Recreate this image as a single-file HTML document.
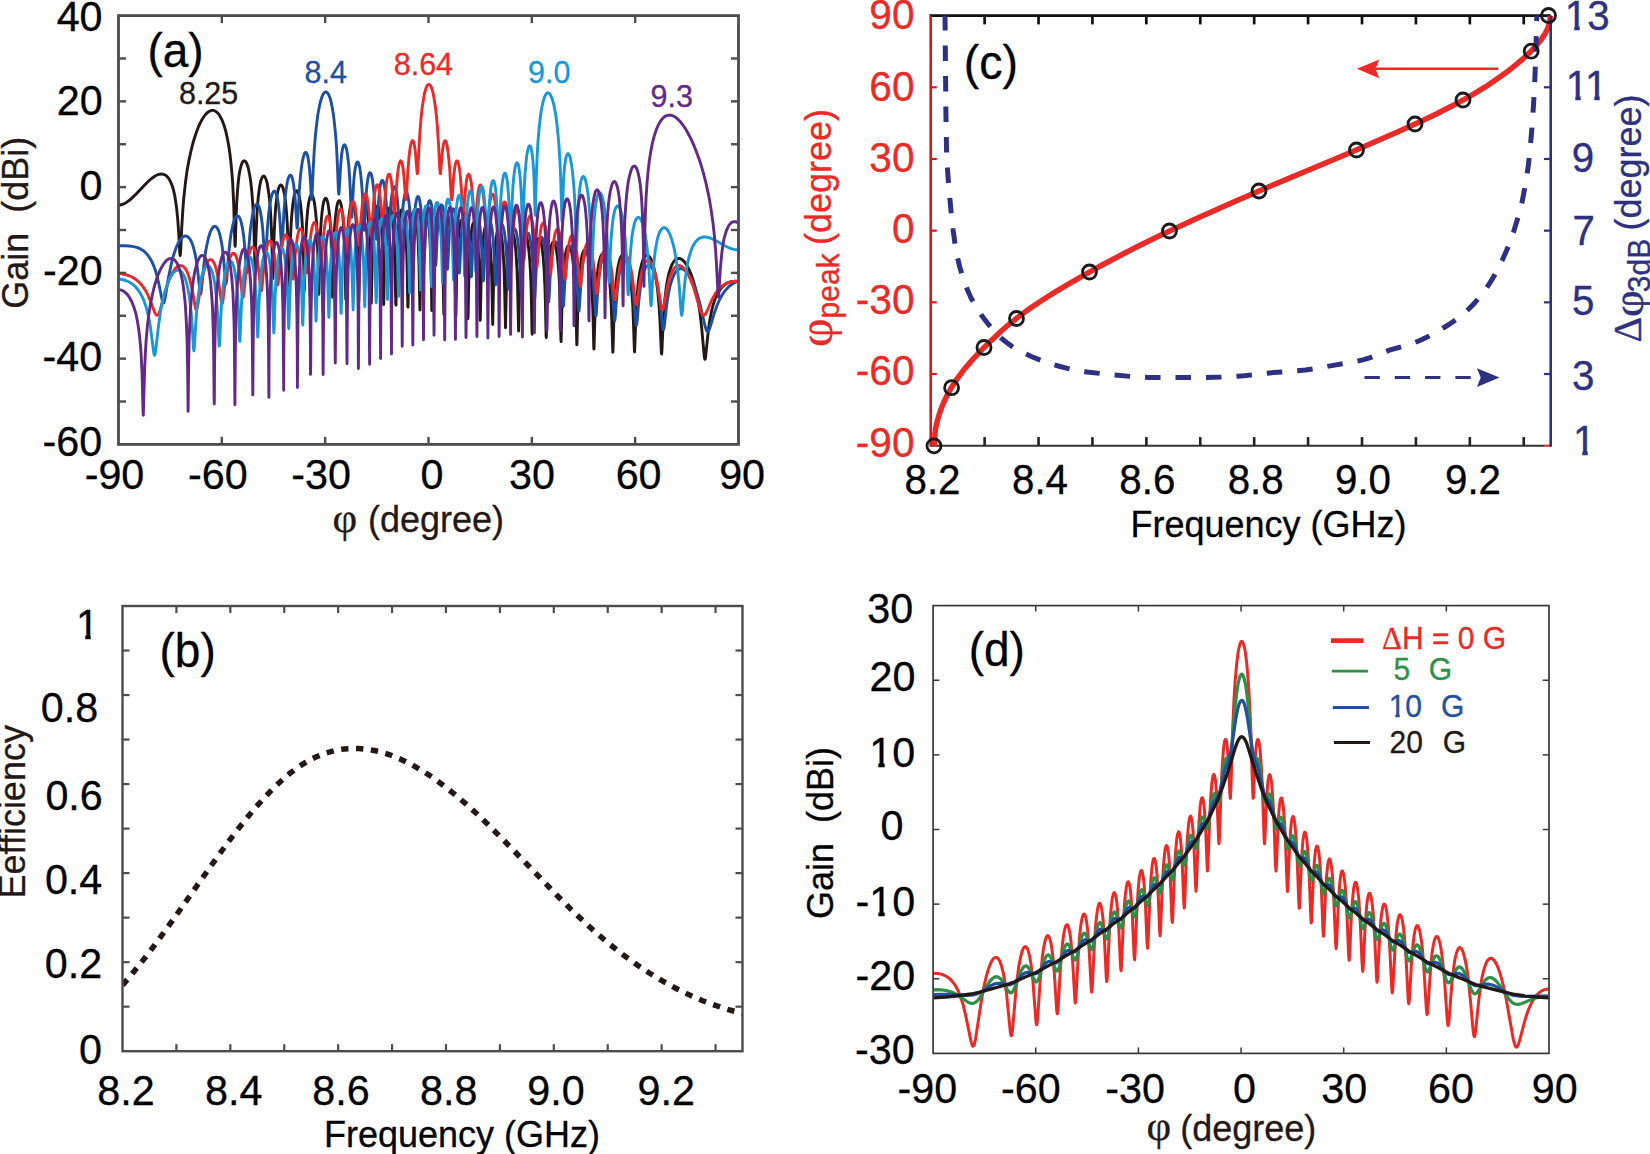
<!DOCTYPE html>
<html><head><meta charset="utf-8"><title>Figure</title>
<style>html,body{margin:0;padding:0;background:#fff;overflow:hidden}svg{display:block}</style></head>
<body><svg width="1650" height="1154" viewBox="0 0 1650 1154">
<rect width="1650" height="1154" fill="#fff"/>
<clipPath id="ca"><rect x="118.5" y="15.6" width="620.0" height="428.79999999999995"/></clipPath>
<g clip-path="url(#ca)" fill="none" stroke-linejoin="round" stroke-linecap="butt">
<path d="M118.5 205.2L121.1 204.8L123.7 203.9L126.4 202.4L129.4 200.3L131.9 198.1L134.7 195.4L144.2 185.5L147.9 181.7L151.6 178.5L154.8 176.2L156.6 175.3L158.1 174.6L159.7 174.2L161.2 174L162.6 174.1L164 174.5L165.2 175L166.4 175.9L167.8 177.3L169.1 179.1L170.3 181.3L171.5 184.1L172.6 187L173.6 190.7L174.5 194.4L175.3 199L176.7 208.7L177.7 219.1L178.6 231.2L179.8 252.8L180.2 255.5L180.3 254.9L180.7 250.2L181.7 228.4L182.6 213.6L183.4 202.1L184.3 192.8L185.5 182.1L187 171.1L188.8 161.1L190.7 152.1L193.1 142.5L195.7 134.2L198.4 126.9L199.8 123.8L201.3 120.8L202.7 118.4L204.3 116.1L205.8 114.2L207.4 112.6L208.9 111.5L210.3 110.8L211.8 110.4L213.2 110.4L214.4 110.7L215.6 111.3L216.8 112.2L217.9 113.2L219.1 114.7L220.1 116.3L222.2 120.4L224.1 125.4L225.8 131.4L227.5 139L228.9 146.7L230.1 155.2L231.1 164.3L232 173.9L232.7 183.5L233.7 203.9L234.9 243.6L235.1 246.2L235.3 244.6L236.1 216.8L236.6 204.6L237.5 190.6L238.5 179.8L239.2 174.6L239.9 170.6L240.8 166.8L241.6 164.1L242.5 162.2L243 161.5L243.5 161L244.4 160.8L244.9 161L245.4 161.4L246.5 162.9L247.3 165L248.2 167.8L249 171.4L249.9 176.1L250.6 180.7L251.8 191.5L252.8 205L253.5 218L254 231.5L254.9 264.7L255.1 267.7L255.2 265.3L255.9 238.8L256.5 224.2L257.1 210.9L258.2 197.7L259.4 188L260.1 184.1L260.9 180.5L261.8 178.1L262.6 176.6L263 176.3L263.5 176.1L264 176.1L264.4 176.3L265.2 177.5L266.1 179.5L267 182.5L267.6 185.8L269 195.1L270.1 205.6L270.9 218.4L271.6 233.5L272.8 278.5L273 277.1L273.7 248.2L274.2 232.7L274.9 218.7L275.7 207.1L276.9 196.6L277.6 192.5L278.3 189.4L279 187.2L279.9 185.5L280.6 184.9L281.1 184.9L281.4 185.1L282.3 186.3L283 188L283.7 190.5L284.4 193.9L285.6 202.4L286.6 213.6L287.3 224.4L288 240.1L289 282.9L289.2 285.9L290.4 239.7L291.1 224.8L291.8 214.6L292.8 204.3L294 196.8L294.7 194L295.4 192.1L296.1 191.1L296.4 190.8L296.8 190.8L297.4 191.2L298.1 192.5L298.8 194.5L299.5 197.5L300.7 205.3L301.7 215.9L302.4 226.3L303.1 241.4L303.6 258.9L304.3 290.6L304.5 288.3L305.2 255.5L305.7 239.6L306.6 222.8L307.6 210.6L308.3 205.1L309 201L309.8 197.5L310.7 195.6L311 195.2L311.6 195L312.1 195.3L312.4 195.7L313.3 197.8L314 200.6L314.8 205.6L315.7 212.9L316.4 221.2L317.1 232.8L317.9 256.6L318.6 290.8L318.8 294.4L319.8 249.4L320.3 236L321 223.8L321.9 213.6L322.4 209.2L323.1 204.7L323.6 202.2L324.3 199.9L325 198.6L325.3 198.3L325.7 198.2L326 198.4L326.4 198.7L326.9 199.8L327.6 202L328.1 204.4L329.1 211.5L330.2 222.8L330.9 234.3L331.5 252L332.4 293.4L332.6 297.2L333.6 250.9L334.1 237.4L334.8 225.2L335.7 215.1L336.7 207.3L337.2 204.7L337.9 202.3L338.4 201.2L338.8 200.8L339.1 200.7L339.5 200.7L339.8 201.1L340.3 202L341 204.3L341.5 206.7L342.6 214L343.6 226L344.3 238.5L344.8 252.3L345.8 299.5L346.9 252.7L347.4 239L348.1 226.6L348.9 216.5L350 208.8L350.5 206.2L351 204.4L351.5 203.3L351.9 202.8L352.2 202.6L352.6 202.7L352.9 203.1L353.4 204.1L354.1 206.5L354.6 209.1L355.7 216.9L356.5 227.3L357.2 239.8L357.7 253.8L358.8 301.3L359.8 253.2L360.3 239.6L360.8 230L361.7 219.1L362.7 210.9L363.2 208.2L363.7 206.3L364.3 205.1L364.6 204.7L364.9 204.5L365.3 204.6L365.6 204.9L366.2 206L366.8 208.5L367.4 211.2L368.4 219.6L369.3 230.7L369.8 240.4L370.3 254.1L371.3 303.1L372.4 254.9L372.9 241.1L373.4 231.4L374.2 220.4L375.3 212.3L375.8 209.6L376.3 207.8L376.8 206.6L377.2 206.2L377.5 206.1L377.9 206.3L378.2 206.8L378.7 208L379.2 210L379.8 212.7L380.8 221.1L381.7 232.4L382.2 242.3L382.7 256.5L383.6 300.6L383.7 304.5L384.6 260.6L385.1 245.2L385.6 234.6L386.5 222.9L387.3 215.4L387.9 212.4L388.4 210.1L388.9 208.7L389.4 207.9L389.8 207.8L390.1 207.9L390.6 208.7L391.3 210.9L391.8 213.3L392.9 221.1L393.7 231.7L394.4 244.7L394.9 259.5L395.8 304.5L396 305.2L396.6 267L397.3 245.5L397.8 235.3L398.5 225.8L399.2 219.2L400.1 213.8L400.8 211.2L401.5 209.9L401.8 209.7L402.2 209.8L402.5 210.2L402.8 210.9L403.5 213.3L404 216L404.7 221.1L405.2 226.4L406.1 239L406.8 255.3L407.3 275.4L407.8 306.2L408 307.1L408.9 262L409.6 243.3L410.2 231.7L411.3 220.8L411.8 217.3L412.5 214L413 212.4L413.3 211.8L413.7 211.5L414 211.5L414.4 211.8L415.1 213.3L415.9 217.1L416.8 223.4L417.5 231L418.2 242.1L419 265.3L419.9 310L420.8 267.3L421.4 247.1L422 237.4L422.6 228.2L423.3 221.9L424 217.6L424.7 214.9L425.4 213.5L425.7 213.3L426.1 213.4L426.4 213.8L426.8 214.5L427.5 216.8L428 219.6L428.7 224.7L429.2 229.9L430.1 242.7L430.7 259.1L431.3 279.3L431.8 310.2L431.9 310.5L432.8 265.3L433.3 250.5L434 237.7L435 225.9L436.1 219.2L436.6 217.2L437.3 215.7L437.6 215.4L438 215.4L438.5 216L439 217.4L439.5 219.4L440.4 224.8L441.2 233.3L441.9 243.5L442.5 254.4L443 270.5L443.8 314.3L444.7 270.5L445.4 250.8L445.9 241.2L446.6 232.3L447.3 226.1L448 221.9L448.7 219.2L449.3 217.9L449.7 217.6L450 217.7L450.4 218.1L450.7 218.8L451.4 221.2L451.9 223.9L452.6 229L453.1 234.2L454 246.7L454.7 262.6L455.2 282L455.7 312.8L455.9 316.2L456.7 271.7L457.3 256.4L458 243.2L458.8 232.7L459.3 228.3L460 224.1L460.5 222L461.2 220.4L461.7 219.9L462.1 220L462.4 220.4L462.9 221.5L463.5 223.4L464.5 229.6L465.4 238L466 248.1L466.6 258.8L467.1 274.5L467.9 318.8L468.1 314.5L469 270.7L469.5 256.7L470 247L470.9 236L471.9 228.1L472.4 225.5L472.9 223.8L473.5 222.8L473.8 222.5L474.1 222.5L474.5 222.7L474.8 223.3L475.3 224.7L475.9 226.8L476.4 229.7L477.2 236.8L478.1 247.6L478.8 260.9L479.3 275.9L480.2 320.4L480.3 319.6L481.2 275.5L481.7 261L482.2 251L483.1 239.8L484 232.6L484.5 229.7L485 227.5L485.5 226.2L486 225.4L486.4 225.3L486.7 225.5L487.2 226.2L487.9 228.2L488.4 230.6L489.5 237.8L490.5 249.9L491.2 262.5L491.7 276.6L492.7 324.5L493.6 282.1L494.1 266.6L494.8 253.2L495.7 242.4L496.7 234.4L497.2 231.8L497.9 229.5L498.4 228.6L498.8 228.3L499.1 228.3L499.5 228.6L499.8 229.1L500.3 230.4L501.4 235L502.4 243L503.2 253.5L503.9 266.1L504.4 280.1L505.5 327.7L506.5 280.5L507 266.9L507.7 254.7L508.6 244.7L509.6 237.3L510.1 234.8L510.8 232.7L511.3 231.8L511.7 231.5L512 231.5L512.4 231.8L512.7 232.3L513.2 233.5L513.9 236.2L514.4 238.9L515.5 247.1L516.3 257.6L517 270.1L517.5 283.9L518.6 331L519.6 285.4L520.1 271.6L520.8 259.3L521.7 249.2L522.7 241.5L523.2 238.9L523.9 236.6L524.6 235.3L524.9 235L525.3 235L525.6 235.2L526 235.6L526.5 236.7L527.2 239.1L527.7 241.6L528.7 248.9L529.8 260.6L530.5 272.3L531 285L531.5 304.1L532 331.6L532.2 334.2L533 294L533.9 271.7L534.6 260.8L535.3 253.2L536.1 246.5L537 242.2L537.7 240L538 239.2L538.5 238.6L538.9 238.4L539.4 238.6L539.9 239.2L540.3 240L541.1 242.8L541.8 246.2L542.5 250.9L543.2 257.2L544.2 271.1L544.9 285.6L545.4 302.1L546.1 335.8L546.3 337.5L547 305.1L547.5 288.1L548.2 273.4L549.2 259.7L550.4 250.2L551.1 246.7L552 243.8L552.7 242.5L553 242.1L553.5 242L554 242.4L554.4 242.8L555.1 244.4L556.1 248.3L557.1 254.7L558 262.4L558.9 273.5L559.9 295.2L560.4 313.6L560.9 338.9L561.1 341.6L562.1 299.2L563 279.4L563.7 269.4L564.4 262.1L565.2 255.5L566.3 250.3L567.1 247.6L568 246.1L568.3 245.9L568.9 245.8L569.4 246.1L569.9 246.9L570.9 249.6L571.8 253.2L572.6 258.4L573.3 263.9L574.5 277.9L575.4 294L576.1 314.9L576.8 344.7L577 344.4L577.6 314.9L578.2 298.8L578.9 284.5L579.7 272.7L580.7 263.3L581.4 258.8L582.1 255.4L582.8 252.9L583.7 250.9L584.4 250L584.7 249.8L585.2 249.7L585.7 250L586.1 250.4L586.8 251.7L587.6 254.1L588.3 256.8L589 260.4L589.7 264.9L590.9 275.9L591.8 287.4L592.5 300.7L593 315L593.8 348.7L594 349L595.2 306.3L595.9 292L596.8 279.9L597.8 270.2L598.5 265.5L599.2 261.9L599.9 259L600.7 256.5L601.6 254.8L602.4 254L602.8 253.9L603.3 254L603.8 254.3L604.3 254.9L605.4 257L606.2 259.6L607.1 263.1L608 267.8L609.3 278.4L610.4 290.3L611.2 305.1L611.7 317.9L612.8 352.3L613 351.2L613.8 321L614.3 307.6L615 294.9L616.1 281.9L617.4 270.5L618.1 266.5L619 262.5L619.8 259.4L620.7 257.2L621.6 255.6L622.6 254.6L623.1 254.4L623.6 254.5L624.3 254.8L624.8 255.3L625.9 257L626.9 259.6L627.9 263.2L628.8 267.1L629.7 272.1L630.5 278.4L631.7 290.4L632.8 305.8L633.4 321.1L634.3 348L634.5 351.6L634.6 351.9L635.7 322.5L636.4 307.2L637.2 294.1L638.4 281.7L639.1 276.4L640 271.2L640.9 267L641.7 263.6L642.6 260.9L643.6 258.5L644.6 256.8L645.8 255.7L646.5 255.4L647.2 255.3L647.9 255.5L648.6 255.9L650 257.5L651.4 260L652.7 263.7L653.9 267.9L655.1 273.3L656.2 279.1L657.7 290.7L659.1 306L660.1 323.3L661.3 351.6L661.5 353.7L661.7 353.9L662 348.9L662.9 328.3L663.8 312.8L664.8 299.9L666.2 288L667 282.5L667.9 278L668.9 273.5L670 269.9L671.2 266.5L672.4 263.9L673.7 261.6L675.1 260L676.2 259.2L677.4 258.6L678.4 258.4L679.6 258.5L680.8 258.9L682 259.6L683.2 260.6L684.4 261.8L685.6 263.4L686.8 265.3L689.2 269.9L691.5 275.4L693.6 281.7L695.3 288L696.8 294.7L698.2 301.8L699.6 310.3L700.6 317.9L701.6 327L704.2 355.6L704.6 358.2L704.9 359.3L705.1 359.3L705.3 358.8L705.6 356.9L708.2 331.8L709.2 324L710.3 317.6L711.5 311.6L712.8 306L714.4 301L715.9 297L718 292.8L720.2 289.3L722.7 286.5L724 285.2L725.4 284.2L726.8 283.3L728.3 282.6L729.9 282L731.6 281.6L733.3 281.4L735.1 281.3L738.5 281.7" stroke="#231815" stroke-width="2.9"/>
<path d="M118.5 245.8L124.5 245.7L129.4 246L133.5 246.6L136.9 247.4L140 248.7L143 250.4L145.5 252.6L147.9 255.3L150 258.3L151.9 261.7L153.6 265.6L155.4 270.4L156.9 275.7L158.3 281.3L162.1 300L162.8 302.2L163.1 302.9L163.4 303.1L163.8 302.8L164.1 302.2L165 298.8L168.6 277L170.9 265.7L172.9 257.4L175.2 250.2L176.7 246.3L178.3 243L179.8 240.4L181.4 238.3L182.9 236.9L184.5 236.2L185.3 236L186 236L187.4 236.5L188.4 237.3L189.5 238.4L190.5 240L191.4 241.6L193.1 246.2L194.6 252L195.7 257L196.7 263.3L197.9 272.7L199.8 290.4L200.3 293.3L200.5 293.7L200.6 293.8L201 292.9L201.5 289.2L203.4 269.5L204.6 258.9L205.6 251.6L206.9 244.8L208.6 237.3L210.3 232L211.2 230L212.2 228.2L213.2 227L214.1 226.4L214.9 226.3L215.8 226.6L216.7 227.3L217.5 228.5L218.4 230.3L219.1 232.1L219.9 235L220.6 237.9L221.7 243.5L222.7 250.9L223.7 260.6L225.4 281L225.8 283.3L226 283.7L226.1 283.6L226.7 279.8L228.2 259.4L229.1 249.7L230.1 240.5L231.1 233.4L232.5 226.2L233.9 221.1L234.6 219.3L235.4 217.5L236.1 216.6L237 215.9L237.8 215.9L238.5 216.3L239.2 217.1L239.9 218.4L240.6 220.2L241.3 222.6L242.5 228.4L243.4 234.2L244.1 240.1L244.9 249.7L246.3 269L246.6 272.2L246.8 272.8L247 272.7L247.5 268L248.7 249.2L249.6 238L250.4 229.2L251.5 221.1L252.7 214.1L254 208.7L254.7 206.8L255.4 205.5L256.3 204.5L257 204.3L257.7 204.6L258.2 205.2L258.9 206.5L259.4 207.8L260.4 211.8L261.4 217.8L262.1 223.2L262.8 230.2L264.7 257.8L265.1 260.6L265.2 260.6L265.8 255.3L267.5 226.9L268.9 212L269.9 204.3L270.9 198.7L272.1 194.2L272.6 193L273.3 191.8L274 191.2L274.5 191.2L275.2 191.7L275.7 192.6L276.4 194.3L276.9 196.1L278 201.5L278.8 208L279.5 215.2L280.2 224.6L281.2 242.2L281.6 246L281.8 246.5L281.9 245.8L282.3 241.4L284 210.7L285.2 196.7L286.1 189.6L287.1 183.2L288.1 178.9L288.7 177.4L289.3 176L290 175.2L290.6 175.2L291.1 175.5L291.6 176.3L292.1 177.5L292.6 179.2L293.6 184.6L294.5 191.5L295.2 199.3L296.8 225.1L297.1 228.1L297.3 227.9L297.6 223.7L299.3 190.5L300.5 175.5L301.4 167.9L302.4 161.1L303.5 156.4L304.5 153.6L305 152.8L305.5 152.4L306.1 152.5L306.6 153L307.1 154.1L307.6 155.8L308.5 160.2L309.1 165.5L309.7 170.9L310.4 180.6L311.2 195.9L311.6 199.4L311.7 199.2L312.1 194.8L313.3 167.3L314.3 149.3L315.5 134.3L317.1 120.3L317.9 114.3L319 108.4L320 103.5L321.2 99.1L322.2 96.2L323.4 93.8L324.6 92.4L325.2 92.1L325.9 91.9L326.5 92.1L327.1 92.5L328.1 93.7L329.1 95.7L330.2 98.6L331.2 102.4L332.2 107.4L333.1 112.4L333.9 118.6L335.3 131.6L336.4 145.2L337.2 160.5L338.4 189.4L338.8 194L338.9 193.8L339.1 192.1L340.7 164.6L341.7 154L342.6 148.8L343.4 145.8L343.8 145.2L344.3 144.7L344.8 144.8L345.3 145.5L345.8 146.7L346.4 148.5L347.2 152.8L348.1 159L348.8 165.8L349.8 180.1L351.3 214L351.5 216.5L351.7 217.4L352 214L353.4 186.6L353.9 179.6L354.6 172.7L355.3 167.8L356.2 164L356.5 163.1L357 162.2L357.5 161.9L358.1 162.3L358.6 163.2L358.9 164.2L359.8 167.8L360.6 173.6L361.3 180L362.4 194L363.9 227.9L364.1 230L364.3 230.3L364.6 225.8L365.8 200.3L366.3 192.6L367 185L367.9 178.6L368.7 174.7L369.1 173.8L369.6 172.9L370.1 172.7L370.6 173.1L371.2 174.1L371.5 175.1L372.4 179.1L373 183.9L373.7 190.5L374.8 205.1L376.1 236.1L376.3 238.6L376.5 239.3L376.8 235.2L378 208.9L378.6 201L379.2 193.1L379.9 187.6L380.8 183.1L381.1 182L381.7 180.8L382.2 180.3L382.7 180.5L383.2 181.4L383.6 182.3L384.4 186L385.1 190.7L385.8 197.1L386.8 211.5L388.2 242.7L388.4 245.3L388.5 246.1L388.9 241.9L390.1 215.2L390.6 207.2L391.3 199.3L392 193.7L392.9 189.3L393.2 188.1L393.7 187L394.2 186.6L394.7 186.8L395.3 187.7L395.6 188.7L396.5 192.7L397.2 197.6L397.8 204.3L398.9 219.7L400.1 247.8L400.4 251.8L400.6 250.9L400.8 248.2L402 221.1L403 206.6L403.7 200.4L404.6 195.4L405.4 192.6L405.8 192.1L406.3 191.9L406.8 192.4L407.1 193.1L408 196.2L408.9 201.7L409.6 208.1L410.2 217L410.8 225.9L412 254.1L412.1 256.3L412.3 256.6L412.7 251.4L413.9 224.4L414.9 210.4L415.6 204.4L416.3 200.3L417.1 197.4L417.5 196.8L418 196.5L418.5 196.8L418.9 197.5L419.7 200.4L420.6 205.7L421.3 212L422.3 226.2L423.7 257.7L423.9 260.3L424 261L424.4 256.6L425.6 229.3L426.6 215L427.3 208.9L428 204.7L428.7 202.1L429 201.3L429.5 200.7L430.1 200.8L430.6 201.6L431.4 204.5L432.3 209.7L433 215.9L434 230L435.4 261.3L435.6 264.2L435.7 265.2L436.1 261.3L437.1 237.2L438 223.4L438.5 217.7L439.2 212L439.7 209L440.4 206.3L440.9 205.2L441.4 204.8L441.9 205.1L442.5 206L443 207.7L443.5 210.2L444.3 216.3L445 223.4L445.7 233.3L447.1 264.3L447.4 269.2L447.6 268.7L447.8 266.3L449.2 235.9L449.7 228.2L450.4 220.6L451.2 214.3L452.1 210.5L452.6 209.3L453.1 208.8L453.6 208.9L454.2 209.8L455 212.8L455.7 216.8L456.4 222.5L456.9 228.2L457.8 241.5L459 269.4L459.2 272.2L459.3 273.1L459.7 269.2L460.9 242.1L461.9 227.6L462.6 221.3L463.3 217L464 214.2L464.3 213.4L464.8 212.6L465.4 212.6L465.9 213.2L466.7 215.7L467.6 220.4L468.5 227.7L469.1 236.1L469.7 244.4L470.9 272L471.2 276.8L471.4 276.4L471.6 274.1L472.8 247.3L473.6 234.3L474.1 228.9L474.8 223.5L475.3 220.6L476 218L476.6 216.8L477.1 216.4L477.6 216.6L478.1 217.5L478.6 219L479.1 221.3L480.2 228.3L480.9 235.4L481.5 245.1L483.1 278.5L483.3 280.6L483.4 280.8L483.8 275.9L485.2 246.7L485.7 239.4L486.4 232.2L487.2 226.1L487.7 223.6L488.3 221.9L488.8 220.9L489.3 220.5L489.8 220.7L490.3 221.6L491.2 224.5L491.9 228.3L492.6 233.7L493.1 238.9L494.1 254.1L495.3 281L495.7 284.9L495.8 284.2L496 281.8L496.9 262.5L497.6 250L498.1 243.1L498.8 236.1L499.6 230.1L500.5 226.5L501 225.2L501.5 224.6L502 224.6L502.6 225.2L503.4 227.5L504.3 231.7L505 236.7L505.7 243.5L506.7 258.4L507.9 284.8L508.2 289L508.4 288.6L508.6 286.6L509.8 261.1L510.6 248.3L511.2 242.8L511.9 237.2L512.5 233.3L513.2 230.7L513.8 229.5L514.3 228.8L514.6 228.8L515 228.9L515.5 229.7L516.2 231.5L516.7 233.7L517.7 240.1L518.6 248.2L519.3 257.3L520 269.5L520.8 288.6L521.2 293.2L521.3 293.2L521.7 288.7L523 261.1L523.6 254L524.3 246.7L525.1 240.3L526 236.2L526.8 233.8L527.4 233.2L527.9 233.1L528.4 233.5L528.9 234.5L529.8 237.3L530.6 241.9L531.5 248.7L532.7 263.2L534.2 293.8L534.6 297.6L534.8 297.3L534.9 295.5L536.3 268.7L537.5 253.3L538.2 247.6L539.1 242.5L539.9 239.3L540.4 238.1L541 237.5L541.5 237.4L541.8 237.5L542.2 237.9L542.7 238.9L543.2 240.4L544.2 245.1L545.3 252.5L546 259.5L546.6 268.5L548.2 298.1L548.5 301.9L548.7 301.8L549.1 297.7L550.1 277.5L550.8 267L551.6 257.5L552.5 250.9L553 248L553.7 245.1L554.2 243.5L554.9 242.2L555.3 241.9L555.6 241.7L555.9 241.8L556.3 242.1L557 243.2L557.5 244.5L558.4 247.9L559 251.7L559.7 256.6L560.4 263L561.6 279.1L562.8 302L563.2 306.1L563.4 306.4L563.7 303.4L565.2 276.2L566.1 265.8L566.8 259.7L567.5 255L568.3 250.8L569.2 248.1L569.9 246.8L570.6 246.3L570.9 246.2L571.3 246.4L572 247.2L572.6 248.8L573.3 251L574.5 257.1L575.6 264.8L576.4 273.8L577.3 286L578.5 307.4L578.9 310.8L579 310.9L579.5 305.5L581.1 280.1L581.8 272.2L582.6 264.7L583.7 258.5L584.9 253.8L585.4 252.5L586.1 251.4L586.6 251L587.3 250.9L588 251.4L588.5 252.2L589.2 253.8L589.7 255.4L590.9 260.8L591.9 267.4L592.8 274.9L593.5 282.5L595.4 311.9L595.7 315.3L595.9 315.8L596.1 315.3L596.4 311.9L597.6 292.9L598.3 284L599 276.9L599.9 270.1L600.9 264.1L602.1 259.5L602.6 258.1L603.3 256.8L603.8 256.2L604.5 255.8L605.2 255.9L606.1 256.6L606.8 257.8L607.4 259.5L608.8 264.4L610 270.9L611.1 278.6L611.9 286.8L612.8 297.5L614.2 317.5L614.5 320.3L614.7 320.7L614.8 320.4L615.2 317.7L616.6 298.6L617.4 288.7L618.3 281L619.3 274.1L620.5 268.3L621.9 263.9L622.6 262.5L623.5 261.3L624.1 260.8L625 260.6L625.9 261.1L626.6 261.8L627.4 263.3L628.1 264.9L629.7 270L631 276.6L632.1 283.2L633.1 291.7L634.1 302.6L635.7 321.8L636 324.5L636.2 325.2L636.4 325.4L636.7 324.3L637.1 321.4L638.6 303.2L639.5 294.7L640.5 286.7L641.5 280.6L642.9 274.5L644.5 269.8L645.2 268.3L646 266.9L646.9 265.9L647.7 265.4L648.8 265.2L649.8 265.5L651 266.6L652 268.1L653.1 270.1L654.1 272.7L655.1 275.9L656.2 279.8L657.6 286.3L658.9 294.7L660.3 305.4L662.4 324.9L662.9 328.4L663.2 329.5L663.4 329.6L663.8 329L664.3 326.1L666.3 308.1L667.5 299.2L668.8 292.1L670.1 285.8L671.9 279.9L673.7 275.2L674.8 273.3L675.8 271.8L677 270.4L678.2 269.5L679.8 268.8L681.5 268.7L683.2 269.2L685.1 270.4L686.8 272.1L688.7 274.5L690.5 277.3L692.2 280.6L694.9 287.2L697.5 294.9L700.4 305.7L704.4 323.2L705.4 327.3L706.1 329.4L706.6 330.6L707.2 331.4L707.7 331.7L708.2 331.5L708.7 330.8L709.7 328.5L714.2 313.4L717 305.5L719.4 300L722 295.2L723.7 292.6L725.6 290.1L727.5 288L729.5 286L731.8 284.3L734 282.9L736.3 281.8L738.5 281.1" stroke="#1e50a2" stroke-width="2.9"/>
<path d="M118.5 273.5L121.8 273.8L125 274.5L128.1 275.4L130.9 276.5L133.5 277.9L135.9 279.4L138.1 281.3L140.4 283.5L142.1 285.5L143.6 287.6L145.2 290.1L146.6 292.5L148.1 295.7L149.7 299.3L154.7 312.4L155.9 314.6L156.6 315.2L157.1 315.4L157.6 315.2L158.3 314.4L159 313.1L159.7 311.3L160.9 307.4L164.3 294.7L166.2 288.3L168.4 281.7L170.7 276.3L172.9 272L174.1 270.2L175.3 268.6L176.5 267.3L177.7 266.4L178.9 265.8L180 265.6L181.2 265.6L182.2 265.9L183.4 266.7L184.5 267.7L185.5 269L186.4 270.4L187.4 272.5L188.2 274.6L189.8 279.4L191.4 285.8L192.6 291.8L195.3 307.4L196 309.5L196.3 309.8L196.5 309.7L197 308.7L197.6 306.6L201.2 283.7L202.5 276.7L203.9 271.1L205.5 266.3L207 262.8L207.7 261.7L208.6 260.6L209.4 259.9L210.3 259.6L211.2 259.7L211.8 260L212.7 260.8L213.4 261.8L214.8 264.7L216.2 269.1L217.4 274.3L218.4 280.2L221.3 301.4L221.8 303.4L222 303.6L222.2 303.6L222.5 302.9L223 300.2L225.8 277.7L226.8 270.9L227.9 265.5L229.1 260.6L230.4 256.6L231.7 254.5L232.3 253.7L233 253.4L233.7 253.4L234.4 253.7L235.1 254.5L235.6 255.4L236.8 258.4L237.8 262.2L238.9 267.5L239.7 273.1L242.3 295.2L242.7 296.9L242.8 297.3L243 297.4L243.4 296.6L243.7 294.6L246.1 271.7L247 265.1L248 258.8L249 254.1L250.2 250.2L251.3 248.1L251.8 247.5L252.5 247.1L253.2 247.2L253.7 247.6L254.2 248.3L254.7 249.3L255.8 252.2L256.6 255.9L257.5 260.7L258.3 267.1L260.6 288.7L260.9 290.7L261.1 291.1L261.3 291.1L261.6 290L262 287.4L264 265.3L264.9 258L265.8 252.3L266.6 248L267.6 244.2L268.7 241.9L269.2 241.2L269.7 240.9L270.2 240.9L270.7 241.3L271.3 242L271.8 243.1L272.8 246.5L273.7 250.7L274.5 256.4L275.2 262.3L277.1 282.6L277.5 284.6L277.6 285L277.8 284.9L278 284.3L278.3 281.8L280.2 259.7L280.9 253.3L281.8 246.8L282.6 242L283.7 237.9L284.5 235.9L285 235.2L285.6 234.8L286.1 234.9L286.6 235.4L287.5 237.1L288.3 240L289.2 244.4L289.9 249.2L290.6 255.4L292.4 276.8L292.8 278.8L293 279L293.1 278.6L293.5 276.2L295.4 252.9L296.8 240.8L297.6 235.7L298.5 232L299.3 229.8L299.9 229L300.4 228.7L300.9 228.8L301.2 229.2L302.1 230.9L302.9 234.1L303.6 237.8L304.3 242.7L305 249.1L306.7 270L307.1 272.4L307.3 272.8L307.4 272.5L307.8 270.2L309.7 245.7L310.4 238.9L311 233.4L311.7 229.3L312.6 225.5L313.5 223.3L313.8 222.8L314.3 222.4L314.8 222.5L315.2 222.9L316 224.8L316.9 228.3L317.6 232.4L318.8 243.2L320.3 263L320.7 265.8L320.9 266.4L321 266.2L321.4 263.9L323.1 240.5L323.8 233.1L324.5 227.3L325.2 222.9L326 219L326.7 217.1L327.1 216.5L327.6 216L328.1 216L328.4 216.4L329.1 217.8L330 221L330.7 225L331.7 233.9L333.4 256.2L333.8 259.2L333.9 259.7L334.1 259.6L334.5 257.1L336.2 232.8L337.4 220.9L338.1 216.2L338.9 212.2L339.6 210.1L340 209.5L340.5 209.1L341 209.2L341.4 209.6L342 211.2L342.7 213.9L343.4 218L344.6 229.1L346.2 249.9L346.5 252.4L346.7 252.6L346.9 252L347.2 248.6L348.6 228L349.8 214.9L350.5 209.8L351.2 206L351.9 203.5L352.2 202.6L352.7 201.9L353.2 201.7L353.6 201.9L354.3 203.2L355.1 206.4L355.8 210.6L357 222.1L358.4 241.3L358.8 244.5L358.9 245L359.1 244.7L359.4 241.8L361 218.4L362.2 205.7L362.9 200.8L363.6 197.3L364.3 195L364.9 193.9L365.5 193.8L365.8 194L366.5 195.5L367.2 198.1L367.9 202.2L369.1 213.7L370.5 233.2L370.8 236.3L371 236.7L371.2 236.2L371.5 232.9L372.9 211.3L374.1 197.7L374.8 192.5L375.5 188.7L376.1 186.3L376.8 185L377.4 184.8L377.7 185L378.4 186.3L379.1 189L379.8 193.1L380.8 202.7L382.2 222.2L382.7 226.9L382.9 226.9L383.2 224.3L384.8 199.9L385.8 188.1L386.5 182.6L387.2 178.6L387.9 175.9L388.5 174.5L389.1 174.1L389.4 174.3L390.1 175.6L390.8 178.1L391.5 182.3L392.5 192L394.1 213.5L394.4 215.4L394.6 215L394.9 211.7L396.3 189.1L397.5 174.8L398.2 169.3L398.9 165.3L399.6 162.6L400.3 161.1L400.6 160.8L400.9 160.8L401.3 161.1L401.6 161.8L402.3 164L403 167.9L404 177.2L405.6 198.1L405.8 199.3L405.9 199.7L406.1 199.2L406.5 195.6L407.8 171.9L409 157L410.2 147.5L410.9 144.1L411.6 141.8L412.3 140.7L412.7 140.6L413 140.8L413.7 142.2L414.4 145.1L415.1 149.7L415.6 154.6L417 171.7L417.3 173.7L417.5 173.3L418 167.1L419.2 143.8L420.1 130.2L421.1 117.7L422.3 106.8L423.9 96.8L424.5 93.4L425.4 90.1L426.3 87.6L427.1 85.8L428 84.8L428.8 84.4L429.7 84.8L430.6 85.8L431.4 87.6L432.3 90.1L433.2 93.4L433.8 96.8L435.4 106.8L436.6 117.7L437.6 130.2L438.5 143.8L439.7 167.1L440.2 173.4L440.4 173.7L440.7 171.8L442.1 154.6L442.6 149.8L443.3 145.1L444 142.3L444.7 140.9L445 140.7L445.4 140.8L446.1 141.8L446.8 144.1L447.4 147.6L448.1 152.4L448.8 158.8L449.9 171.9L451.2 195.6L451.6 199.2L451.8 199.8L451.9 199.4L452.3 196.3L453.6 177.3L454.7 168L455.4 164.1L456.1 161.8L456.4 161.2L456.7 160.9L457.1 160.9L457.6 161.4L458.3 163.2L459 166.2L459.7 170.5L460.2 174.8L461.4 189L462.8 211.7L463.1 215L463.3 215.5L463.5 215L463.8 211.7L465.4 190.3L466.4 181.2L467.1 177.5L467.8 175.3L468.1 174.6L468.5 174.3L468.8 174.3L469.3 174.8L470 176.5L470.7 179.5L471.4 183.8L471.9 188.1L472.9 199.8L474.5 224.2L474.8 227L475 227.1L475.5 222.6L477.1 201.2L478.1 192.2L478.8 188.4L479.5 186.1L479.8 185.4L480.2 185L480.5 184.9L481 185.3L481.7 186.9L482.4 189.6L483.1 193.6L483.8 199.2L484.8 211.1L486.2 232.7L486.5 236.2L486.7 236.8L486.9 236.6L487.2 233.8L488.8 212.3L489.3 206.9L490 201.5L490.7 197.7L491.4 195.3L492.1 194.1L492.4 193.9L492.9 194.2L493.6 195.6L494.3 198.1L495 201.8L495.7 207L496.9 220.3L498.2 241.4L498.6 244.7L498.8 245.2L498.9 244.9L499.3 242.1L500.7 222.9L501.9 211.2L502.6 206.9L503.2 204L503.9 202.4L504.3 202L504.6 201.9L505.1 202.2L505.5 202.8L506.2 204.6L507 208.6L507.7 213.3L508.9 225.3L510.5 248.1L511 252.7L511.2 252.9L511.5 250.9L513.1 230.1L514.3 218.7L515 214.5L515.6 211.7L516.3 210L516.7 209.5L517 209.3L517.4 209.4L517.9 210L518.7 212.2L519.6 216.1L520.3 220.6L521.3 230.2L523.2 256.4L523.6 259.5L523.7 260L523.9 259.9L524.3 257.5L526.1 233.4L526.8 227.3L527.5 222.7L528.4 218.9L528.9 217.5L529.4 216.6L529.9 216.3L530.5 216.5L531 217.2L531.5 218.4L532.2 221L532.7 223.6L533.9 232.4L534.9 243.8L536.3 263L536.7 266.1L536.8 266.7L537 266.6L537.3 264.6L539.1 243.1L540.3 232.5L541 228.5L541.6 225.6L542.3 223.8L542.7 223.2L543.2 222.8L543.7 222.9L544.2 223.4L545.1 225.5L546 228.9L546.8 234L547.5 239.5L548.2 246.4L550.1 270.8L550.4 273L550.6 273.2L550.8 272.7L551.1 270.2L552.8 249.5L554 239.3L554.7 235.3L555.4 232.4L556.1 230.5L556.5 229.8L557 229.3L557.5 229.1L558 229.5L558.5 230.2L559 231.4L560.1 235.2L560.9 240L562.3 251.3L564.2 274.6L564.6 277.9L564.9 279.4L565.1 279.3L565.2 278.7L565.6 276.1L567 259.9L567.8 251.5L568.5 246.4L569.4 241.6L570.4 237.8L570.9 236.6L571.6 235.7L572.1 235.5L572.8 235.8L573.3 236.5L573.9 237.6L574.5 239.7L575.2 242.5L576.6 250.9L577.8 261.8L579.5 282.1L579.9 285L580.2 286.3L580.4 286.2L580.6 285.7L580.9 283.3L582.8 263.3L583.5 257.6L584.4 252.1L585.2 248L586.3 244.9L586.8 243.9L587.3 243.2L587.8 243L588.3 243L588.8 243.4L589.4 244.1L590.4 246.5L591.4 250.4L592.3 254.8L593.1 260.6L594 267.8L596.1 289.9L596.4 292.5L596.8 293.8L596.9 293.8L597.1 293.4L597.5 291.5L599.7 270L600.4 264.8L601.2 259.7L602.1 255.8L603.1 252.5L604.2 250.6L604.7 250L605.4 249.8L605.9 249.9L606.6 250.4L607.3 251.5L607.8 252.6L609 256.3L610 260.8L610.9 265.7L611.7 271.8L614.2 294.4L614.7 298.2L615 299.5L615.2 299.6L615.4 299.5L615.9 297.2L618.5 275.1L619.3 269.5L620.4 264.2L621.6 259.8L622.8 256.9L623.3 256.1L624 255.3L624.7 255L625.4 255L626 255.4L626.7 256.1L627.9 258.3L629.3 262.2L630.5 267.1L631.6 272.5L632.6 279.1L635.3 301.3L635.9 303.9L636.2 304.7L636.4 304.7L636.7 304L637.2 301.6L640 281.5L641 275.6L642.2 270.3L643.4 266.3L644.8 263.1L645.5 262L646.2 261.2L646.9 260.6L647.6 260.3L648.4 260.3L649.3 260.7L650.2 261.4L651 262.5L651.9 263.9L652.7 265.8L654.5 270.6L656 276.6L657.4 283.2L661.2 306.6L661.9 309.3L662.4 310.1L662.6 310.1L662.9 309.7L663.6 307.5L667.4 286.9L668.8 281.1L670.1 276.6L671.9 272.2L673.6 269.1L674.4 268L675.5 266.9L676.3 266.3L677.4 265.8L678.6 265.5L679.9 265.7L681.3 266.2L682.7 267.2L684.1 268.5L685.5 270.2L686.8 272.2L688.2 274.7L690.8 280.2L693.4 287.1L695.6 294.1L699.4 307.1L700.8 311.3L701.5 312.9L702.2 314.2L702.9 315.1L703.4 315.4L703.9 315.4L704.6 315L705.8 313.5L707.2 310.8L711.3 301.2L713.7 296.5L715.2 293.9L716.8 291.6L718.4 289.7L720.1 287.8L722 286.2L724 284.7L726.3 283.4L728.5 282.5L730.9 281.8L733.3 281.4L735.9 281.3L738.5 281.3" stroke="#ea2a27" stroke-width="2.9"/>
<path d="M118.5 279L122.1 279.5L125.7 280.5L129.2 282L132.3 284L135.2 286.5L137.8 289.5L140.2 293.1L142.3 296.9L144 300.9L145.7 305.9L147.1 310.7L148.5 316.5L149.7 322.8L150.7 329.2L153.6 351.8L154.1 354.4L154.5 355.2L154.7 355.2L155.2 353.7L155.7 350.3L158.5 325.9L160.5 311.7L161.7 305L162.9 299.4L164.3 293.8L165.9 288.4L167.8 283L169.6 278.7L171.5 275.3L173.6 272.5L174.6 271.6L175.7 270.8L176.7 270.3L177.6 270.2L178.6 270.2L179.5 270.4L180.3 270.9L181.2 271.6L182.4 273L183.4 274.7L184.5 276.8L185.5 279.5L186.5 282.9L187.4 286.3L188.9 294.2L190.1 302.8L191.2 312.7L192.2 326.3L193.4 346.6L193.8 350.3L193.9 350.8L194.1 350.2L194.4 346.4L195.7 325.1L196.7 310.7L197.9 298.5L199.3 288.4L201 279.3L202 275.2L203.1 272L204.1 269.5L205.1 267.6L206.2 266.3L206.9 265.8L207.4 265.6L208.4 265.7L209.4 266.4L210.5 267.8L211.5 270L212.4 272.4L213.2 275.7L214.1 279.8L214.8 283.8L216 293.3L217 305L217.9 319.1L218.9 341.8L219.2 346.1L219.4 345.7L219.8 340.5L220.8 317.1L221.5 305.2L222.5 292.2L223.6 282.8L224.9 273.9L225.8 269.8L226.7 266.6L227.5 264.2L228.4 262.5L229.2 261.4L230.1 260.9L231 261.2L231.8 262L232.7 263.7L233.4 265.5L234.2 268.7L234.9 272L236.1 280.1L237 288.2L237.8 299.6L238.5 312.5L239.6 338.7L239.7 341.2L239.9 341.3L241.6 301.6L242.5 288.6L243.5 277.7L244.7 268.9L245.4 265.2L246.3 261.6L247 259.4L247.8 257.6L248.7 256.6L249.2 256.5L249.6 256.5L250.2 257L250.9 258.1L251.6 259.9L252.3 262.3L253.5 268.7L254.6 276.9L255.4 287L256.1 298.3L257.7 337L257.8 336.4L258 332.9L258.7 312L259.4 295.8L260.1 284.4L260.9 274L262 265.3L263.2 258.5L263.9 255.8L264.5 253.9L265.2 252.7L265.9 252.1L266.3 252.1L266.6 252.2L267.3 253.1L268 254.6L268.7 256.9L269.9 263.4L270.9 272.1L271.6 280.6L272.3 292.3L272.8 304.5L273.7 331.1L273.8 332.9L274.2 326.3L275.2 295L275.7 284.5L276.4 274.2L277.3 264.9L278.1 258.3L279.2 252.8L279.7 250.9L280.4 249.2L281.1 248.2L281.4 248L281.8 248L282.5 248.6L283.1 250L283.8 252.3L284.4 254.8L285.6 263.3L286.4 272.8L287.1 284L287.8 300.5L288.5 324.1L288.7 328.2L288.8 328.5L289.9 295.8L290.4 283.5L291.2 269.3L292.1 259.8L292.8 254.3L293.5 250.2L294.2 247.2L294.9 245.3L295.5 244.2L296.1 244L296.4 244.2L297.1 245.2L297.8 247.1L298.6 251.1L299.3 255.8L300 262.3L300.7 271.3L301.6 288.6L302.6 323.1L302.8 325L302.9 322.2L304.2 282.7L304.8 269.4L305.7 258.1L306.7 249.3L307.3 246.2L307.9 243.1L308.5 241.6L309.1 240.4L309.5 240.2L309.8 240.2L310.2 240.5L310.5 241L311 242.3L311.6 244.2L312.4 249.1L313.3 256.6L314 265.3L314.8 282.3L316 321.1L316.2 319.2L317.4 278.4L318.1 264.7L318.8 255.3L319.8 245.7L320.9 240L321.4 238.2L321.9 237L322.2 236.6L322.6 236.4L323.1 236.7L323.6 237.5L324.1 239L325 243.2L325.9 249.9L326.5 257.8L327.6 277.2L328.8 317.4L329 315.5L330 278L330.9 259.8L331.5 250.4L332.2 243.7L333.1 237.9L333.9 234.4L334.5 233.3L334.8 232.8L335.2 232.7L335.5 232.9L335.8 233.3L336.4 234.5L336.9 236.5L337.4 239.3L338.4 247.9L339.1 256.9L339.8 270.4L340.3 285.6L341 312.5L341.2 313.3L342.4 270.8L343.1 256.4L343.9 244.7L345 236L345.5 233.1L346.2 230.5L346.9 229.2L347.2 229L347.6 229.1L347.9 229.5L348.2 230.2L348.8 231.9L349.4 235.5L350.1 240.9L350.8 248.8L351.3 257L352 273.1L353.1 310L353.2 307.4L354.3 268.2L354.8 256.3L355.3 247.7L356.2 237.6L357 231.1L357.9 227.2L358.4 226L358.9 225.4L359.4 225.6L360 226.5L360.8 229.7L361.7 235.6L362.5 245.1L363.1 253.5L363.6 265.2L364.6 304.3L364.8 306.5L365.8 267.9L366.5 251.4L367.5 236.5L368.2 230.3L368.9 226L369.4 223.9L370.1 222.3L370.5 222L370.8 222L371.3 222.7L372 224.8L372.5 227.4L373.6 235.9L374.2 245.1L374.9 259.2L376.1 302.8L376.3 301.4L377.4 261.1L377.9 248.9L378.4 240L379.1 231.6L379.9 224.6L380.8 220.4L381.3 219.1L381.8 218.5L382.3 218.7L382.9 219.7L383.7 223.2L384.6 229.6L385.3 237.6L385.8 246.1L386.3 258L387.3 298L387.5 299.4L388.4 264.8L389.2 243.2L389.8 234.9L390.4 226.9L391.1 221.5L392 217.2L392.5 215.9L392.9 215.4L393.2 215.3L393.7 215.8L394.2 217.1L394.7 219.3L395.3 222.4L396.1 230.5L396.8 240.6L397.5 256.3L398.5 296.2L398.7 295.1L399.4 265.4L399.9 249.6L400.6 235.7L401.3 226.5L402.3 217.8L402.8 215.1L403.4 213.3L403.9 212.4L404.2 212.2L404.6 212.4L405.1 213.3L405.6 215.1L406.3 219L407 225.1L408 240.2L408.7 257.8L409.6 292.8L409.7 292.3L410.8 251.2L411.3 238.7L412 227.4L412.8 218.2L413.7 212.6L414.2 210.5L414.7 209.3L415.2 209L415.8 209.4L416.3 210.6L416.6 212L417.3 216L418 222.2L418.7 231.4L419.5 250.4L420.6 290.1L420.8 287.7L421.6 251.6L422.5 231.3L423 223.4L423.7 216L424.4 210.9L425.1 207.6L425.6 206.2L425.9 205.8L426.3 205.7L426.8 206.2L427.3 207.6L427.8 209.9L428.3 213.2L429.2 221.7L429.9 232.3L430.4 244.1L431.4 284.8L431.6 286.7L432.8 241.4L433.5 226.8L434.2 217.2L435.2 208.2L435.7 205.5L436.2 203.6L436.8 202.6L437.1 202.4L437.5 202.6L438 203.5L438.5 205.2L439.2 209.1L439.9 215.2L440.9 230.3L441.6 247.9L442.5 283L442.6 282.4L443.7 241.3L444.2 228.8L444.9 217.5L445.7 208.3L446.6 202.7L446.9 201.2L447.4 199.7L448 199.1L448.3 199.1L448.5 199.2L449 200.2L449.3 201.3L450.2 205.9L450.9 212L451.6 221.1L452.4 239.7L453.5 279.7L453.6 278.5L454.7 237.4L455.2 225.1L455.7 216.3L456.4 207.9L457.3 200.9L458.1 196.9L458.6 195.7L459.2 195.3L459.7 195.6L460 196.3L460.9 199.7L461.7 206L462.4 213.9L462.9 222.4L463.5 234.2L464.5 274.3L464.7 275.7L465.7 235.5L466.2 222.6L466.7 213.4L467.6 202.9L468.5 196.3L469.3 192.5L469.8 191.4L470.4 191L470.9 191.4L471.2 192.1L472.1 195.6L472.9 201.9L473.6 209.8L474.1 218.2L474.7 230L475.7 269.7L475.9 271.4L476.9 231.6L477.4 218.7L477.9 209.4L478.6 200.6L479.5 193.2L480.3 188.7L480.9 187.2L481.4 186.4L481.7 186.3L481.9 186.4L482.4 187.2L483.3 190.2L484.1 196L485 205.5L485.5 213.9L486 225.7L487.1 264.9L487.2 266.3L488.3 226.8L488.8 213.9L489.3 204.6L490 195.6L490.8 188.1L491.7 183.4L492.2 181.7L492.7 180.8L493.3 180.6L493.8 181.1L494.3 182.4L494.8 184.6L495.7 190.2L496.5 199.6L497 207.8L497.6 219.3L498.6 257.8L498.8 260L499.8 221.6L500.3 208.4L500.8 198.8L501.5 189.6L502.4 181.8L503.4 176L503.9 174.4L504.4 173.4L505 173.2L505.5 173.6L506 174.8L506.5 176.8L507.4 182L508.2 190.8L508.9 201.5L509.4 213.4L510.5 250.8L510.6 250.7L510.8 245.3L511.3 223.1L511.9 207L512.9 187L513.8 176.9L514.6 170.1L515.5 165.8L516 164.1L516.5 163.1L517 162.8L517.5 163.2L518.1 164.2L518.6 166L519.4 170.8L520.3 178.9L521 188.9L521.5 199.8L522.5 236.1L522.7 238.8L522.9 235.9L523.9 197L524.4 184.7L525.1 172.9L526 162.5L526.8 155.3L527.9 149.6L528.4 147.8L528.9 146.5L529.2 146L529.6 145.8L530.1 146L530.6 146.7L531.1 148.2L532 152.6L532.9 160L533.6 169.4L534.1 179.9L535.1 213.9L535.3 215.4L536.3 177.5L537 159.3L538 141.1L539.4 125L540.3 117.6L541.1 111.6L542.2 105.8L543.2 101.3L544.2 97.9L545.4 95.1L546.6 93.4L547.2 93L547.9 92.8L548.5 92.9L549.2 93.3L550.4 94.8L551.8 97.8L553 101.7L554.2 106.7L555.3 112.2L556.3 119L557.3 127.3L558.9 144.4L560.1 164.3L560.8 181.2L561.8 218.4L562 221.1L562.1 219.3L563.4 184.4L564 173L564.7 165.5L565.8 158.6L566.3 156.4L566.8 154.9L567.3 154.1L567.7 153.8L568 153.7L568.5 153.9L569.2 155L569.9 156.8L570.4 158.7L571.6 165.1L572.6 173.1L573.7 184.4L574.4 194.8L575.1 209L576.3 247.4L576.4 249.9L576.6 248.5L577.5 222.1L578 210.2L578.7 199.2L579.4 191.5L580.4 183.9L580.9 181.3L581.6 178.8L582.3 177.3L583 176.6L583.3 176.5L583.7 176.6L584.4 177.3L585.1 178.8L585.7 181L586.9 186.7L588 193.9L589 204.1L589.7 213.3L590.4 225.6L591.9 268L592.1 267.7L592.3 264.4L593 243.7L593.7 228.2L594.4 217.6L595.2 208.4L596.4 200.2L596.9 197.8L597.6 195.4L598.3 193.8L598.7 193.3L599.2 192.8L599.9 192.7L600.2 192.9L600.7 193.4L601.4 194.7L602.1 196.5L602.8 199L603.5 202.2L604.7 209.8L605.9 220.8L606.8 232L607.4 244.2L608.6 276.5L609 282.6L609.2 281.9L609.3 278.7L610.2 255.5L610.7 244.9L611.4 234.4L612.3 225.1L613.3 217.3L614.5 211.4L615.2 209.1L615.9 207.5L616.6 206.5L617.4 205.9L617.8 205.9L618.3 206.1L618.8 206.5L619.3 207.2L620.2 209L621 211.6L621.9 215L622.8 219.4L624.1 228.9L625.2 239L626 250.5L626.9 266.5L627.9 291.9L628.1 294.3L628.3 294.7L628.6 289.8L629.7 265.8L630.5 251.8L631.7 238.8L632.4 233.6L633.3 228.5L634.3 224L635.3 220.8L636.4 218.8L636.9 218.1L637.6 217.5L638.1 217.3L638.8 217.4L639.3 217.6L640 218.3L641.2 220.2L642.4 223.1L643.8 227.9L645.2 234.5L646.4 242.3L647.4 250.9L648.3 260.3L648.9 269.7L650.7 302.6L651 305.6L651.2 305.1L651.5 300.7L652.6 280.8L653.4 268L654.5 256.9L655.5 248.9L656.9 241.3L657.7 237.7L658.6 234.8L659.5 232.5L660.5 230.5L661.5 229L662.6 228.1L663.2 227.8L663.9 227.6L664.6 227.7L665.5 228.1L666.2 228.6L667 229.4L668.6 231.7L670.1 235L671.5 238.7L672.9 243.4L674.1 248.4L675.1 253.5L676.2 259.6L677.9 272.6L679.3 287L681 310.4L681.3 313.9L681.7 315.4L681.8 315.2L682 314.5L682.4 311.5L683.9 292L685.1 279.9L686.3 270.9L687.5 263.9L689.2 256.4L690.3 252.9L691.3 249.9L692.3 247.4L693.6 245L694.8 243L696.1 241.2L697.3 239.9L698.5 238.9L699.8 238.2L701.1 237.6L702.5 237.2L704.1 237L705.6 237L707.3 237.3L710.1 238L713.4 239.4L716.5 241.1L724.7 245.8L729.4 248L731.8 248.8L734 249.4L736.3 249.7L738.5 249.8" stroke="#1a97d5" stroke-width="2.9"/>
<path d="M118.5 289.7L120.1 289.9L121.4 290.2L123 290.9L124.4 291.8L125.7 292.9L127.1 294.3L128.3 295.7L129.5 297.5L131.8 301.7L133.8 306.9L135.6 312.6L137.1 319.5L138.3 326.4L139.3 334.1L140.2 342.4L141.1 353.6L142.1 374.6L143.1 413L143.3 415.2L144.7 367.1L145.4 352.5L146.2 339.4L147.4 326L148.8 314.6L150.4 304.6L152.3 295L153.5 289.8L154.8 284.7L156.4 279.6L157.9 275.3L159.5 271.5L161.2 267.9L162.8 265.2L164.5 262.7L166.2 260.7L167.8 259.5L169.5 258.6L171 258.4L172.6 258.7L174.1 259.6L175.5 261L176.9 263L178.3 265.8L179.6 269.5L180.8 273.7L182.1 279.1L183.1 285L183.9 291.2L184.8 299.1L185.5 307.3L186.5 325.2L187.2 345.7L187.7 375.2L188.1 411.4L188.6 367.4L189.1 341.3L190 318.3L190.7 306.5L191.4 297.7L192.2 289L193.2 281L194.4 273.7L195.7 268.1L197 263.2L198.6 259.2L199.3 258L200.1 256.7L200.8 256L201.7 255.5L202.5 255.4L203.2 255.6L203.9 256.1L204.6 256.9L205.3 258L206 259.4L207.4 263.4L208.6 268.6L209.6 274.6L210.5 281.3L211.3 290.1L212.4 305.8L213.2 328.7L213.7 355.8L214.1 396.3L214.3 403.9L214.6 359.5L215.3 323.7L215.8 309.4L216.3 299.1L217 288.9L217.9 279.4L219.1 269.8L220.3 262.9L221.7 257.5L222.4 255.5L223.2 253.7L223.9 252.7L224.8 252.1L225.6 252.1L226.3 252.6L227.2 253.8L227.9 255.3L228.6 257.4L229.2 260L230.6 267.7L231.8 278.1L232.9 292.1L233.5 306.7L234.1 323.9L234.4 342.8L234.9 404.7L235.3 354.4L235.6 330.2L236.1 309.9L237 290.4L238.2 274.1L239.1 266.4L239.9 260.5L240.8 256.1L241.8 252.4L242.8 250L243.4 249.3L243.9 248.9L244.4 248.9L244.9 249.1L245.4 249.7L245.9 250.5L247 253.4L247.8 257.1L248.7 262.3L249.4 267.9L250.6 282.4L251.5 300.2L252 318.1L252.3 338.3L252.8 394.9L253.2 343L253.5 320.5L253.9 306.5L254.4 292.2L254.9 282.1L255.6 272.2L256.5 263.3L257.5 255.8L258.5 250.7L259 248.9L259.7 247.1L260.4 246.1L261.1 245.7L261.8 246L262.3 246.7L263 248.3L263.5 250L264.5 255.1L265.8 264.6L266.6 275.4L267.3 288.3L267.8 303L268.2 318L268.5 343.7L268.9 397.4L269 362.5L269.4 326.2L269.9 301.3L270.6 282.9L271.6 266.4L272.3 259.1L273 253.6L273.7 249.5L274.5 245.8L275.4 243.5L275.7 243L276.3 242.5L276.8 242.6L277.1 242.8L278 244.4L278.8 247.5L279.5 251.1L280.2 256.2L280.9 263.1L281.9 279.2L282.5 292.3L283 313.4L283.3 340.5L283.7 390.2L283.8 353.3L284.2 318.9L284.7 294.7L285.2 280.4L286.2 262.8L287.5 250.8L288.1 246.3L289 242.5L289.7 240.6L290 240L290.6 239.5L291.1 239.5L291.4 239.9L292.1 241.2L293 244.4L293.6 248.4L294.3 253.9L294.9 259.4L295.9 276.4L296.4 290.4L296.9 314.5L297.3 349.3L297.4 387.6L298 318.7L298.3 299L299 276.9L299.9 261.1L300.4 254.6L301.1 248.1L301.7 243.3L302.4 240L303.1 237.8L303.5 237.1L304 236.6L304.5 236.6L304.8 236.9L305.5 238.4L306.2 241.1L306.9 245.1L307.6 250.8L308.1 256.6L309 270.9L309.5 284.6L310 307.5L310.4 339.2L310.5 374.4L310.7 365L311 316.8L311.4 296L312.1 273.2L312.9 257.1L313.6 248.8L314.3 242.8L315.2 237.7L316 234.8L316.6 233.9L317.1 233.6L317.6 233.9L317.9 234.5L318.8 237.4L319.7 242.4L320.5 250.5L321.2 260.3L321.7 270.9L322.2 286.9L322.8 317.1L323.1 374.5L323.6 311L324 290.7L324.6 268.3L325.5 252.5L326.5 241.2L327.1 237.5L327.8 233.8L328.4 231.6L328.8 231L329.1 230.6L329.5 230.6L329.8 230.8L330.5 232.3L331.2 235L331.7 238.2L332.7 247.9L333.6 261.7L334.1 275L334.6 297L335 326.7L335.2 358.4L335.3 363L335.7 310.2L336 288.4L336.5 269.6L337.4 251.6L338.1 242.5L338.8 236.2L339.5 231.9L340.3 228.6L340.7 227.9L341.2 227.5L341.7 227.7L342 228.3L342.9 231.3L343.6 235.5L344.3 241.7L345 251L345.5 261L346 276.1L346.5 303.3L347 363.8L347.2 327.6L347.6 294.9L348.1 271.4L348.9 250.8L350 237.1L350.7 231.4L351.3 227.6L352 225.4L352.4 224.8L352.9 224.5L353.4 225L353.8 225.8L354.4 228.4L355.3 234.1L356.2 243.7L356.9 255.8L357.4 270L357.7 284.4L358.1 309L358.4 368.5L358.9 295.6L359.3 276.7L359.8 259.5L360.5 245.4L361.5 232.6L362 228.5L362.7 224.7L363.2 222.9L363.6 222.1L363.9 221.8L364.3 221.7L364.6 222L365.3 223.8L366 227.1L366.5 230.8L367.5 242.8L368.2 256.5L368.7 273.1L369.1 291.3L369.6 364.2L370.1 291.8L370.5 273L371 255.9L371.7 241.8L372.7 229.1L373.2 225L373.9 221.3L374.4 219.6L374.8 218.9L375.1 218.6L375.5 218.7L375.8 219.1L376.3 220.5L377 223.7L377.5 227.4L378.6 239.5L379.2 253.2L379.8 270.2L380.1 289.1L380.6 358.6L380.8 322.6L381.1 286.4L381.5 268.2L382 251.5L382.7 237.6L383.7 225.2L384.2 221.3L384.8 218.5L385.3 216.6L385.6 215.9L386 215.5L386.3 215.6L386.7 215.9L387.2 217.2L387.9 220.5L388.4 224.2L389.4 236.2L390.1 250L390.6 267L391 285.9L391.5 354L391.6 319.2L392 283.2L392.3 265.1L392.9 248.5L393.5 234.7L394.6 222.4L395.1 218.6L395.6 215.9L396.1 214.1L396.5 213.4L396.8 213.2L397.2 213.3L397.5 213.7L398 215.2L398.5 217.6L399.1 221.2L400.1 232.7L400.8 246L401.3 262L401.6 279.3L402 312.5L402.2 346.2L402.7 285L403 265.2L403.5 247.6L404.2 233.2L405.2 220.6L405.8 216.7L406.3 213.9L406.8 212.1L407.1 211.4L407.5 211.1L407.8 211.2L408.2 211.7L408.7 213.1L409.2 215.6L409.7 219.1L410.8 230.9L411.5 244.2L412 260.5L412.3 278.3L412.8 345.1L413.3 281.4L413.7 262.2L414.2 245L414.9 230.9L415.9 218.4L416.4 214.6L417 211.9L417.5 210.1L417.8 209.5L418.2 209.3L418.5 209.4L418.9 209.9L419.4 211.5L419.9 214.1L420.4 217.8L421.4 230L422.1 244L422.6 261.3L423 280.8L423.5 339.7L424 275.1L424.4 257.7L424.9 241.5L425.6 228.1L426.4 217.7L427 213.6L427.5 210.6L428 208.7L428.3 208L428.7 207.7L429 207.7L429.4 208.1L429.9 209.6L430.4 212L430.9 215.5L431.9 227.1L432.6 240.3L433.2 256.1L433.5 273.1L434 335.3L434.7 269.3L435 253.7L435.6 238.7L436.2 226L437.1 216.2L437.6 212.4L438.1 209.7L438.7 208L439 207.4L439.4 207.2L439.7 207.4L440 207.9L440.6 209.6L441.1 212.2L441.6 215.9L442.6 228L443.3 241.9L443.8 258.7L444.2 277.3L444.7 339.9L445.2 276.2L445.6 258.1L446.1 241.5L446.8 227.9L447.6 217.4L448.1 213.3L448.7 210.4L449.2 208.6L449.5 207.8L449.9 207.5L450.2 207.5L450.5 208L451.1 209.4L451.6 211.7L452.1 215.1L453.1 226.2L453.8 238.7L454.5 260L454.9 279.1L455.4 339.4L455.9 275.9L456.2 258.1L456.7 241.8L457.4 228.3L458.5 216.3L459 212.7L459.5 210.1L460 208.5L460.4 207.9L460.7 207.8L461.1 207.9L461.4 208.5L461.9 210.1L462.4 212.7L462.9 216.4L464 228.3L464.7 241.7L465.2 257.8L465.5 275.1L466 337.5L466.7 269.7L467.1 254.4L467.6 239.5L468.3 226.9L469.1 217.1L469.7 213.2L470.2 210.5L470.7 208.7L471 208L471.4 207.7L471.7 207.8L472.1 208.2L472.6 209.6L473.3 212.8L473.8 216.5L474.8 228.4L475.5 241.8L476 257.8L476.4 275L476.9 336.6L477.6 270.3L477.9 254.9L478.4 239.9L479.1 227.3L480.2 215.9L480.7 212.3L481.2 209.8L481.7 208.2L482.1 207.7L482.4 207.5L482.8 207.6L483.1 208.1L483.6 209.6L484.3 213L484.8 216.8L485.9 228.8L486.5 242.4L487.1 258.6L487.4 276.1L487.9 338.1L488.4 280.6L488.8 261.3L489.5 239.8L490.2 227.1L491.2 215.7L491.7 212.1L492.2 209.5L492.7 207.9L493.1 207.2L493.4 206.9L493.8 207L494.1 207.4L494.6 208.7L495.3 211.7L495.8 215.2L496.9 226.1L497.6 238.1L498.1 252L498.6 275.5L499.1 336.5L499.8 270.1L500.1 254.8L500.7 239.9L501.4 227.1L502.4 215.5L502.9 211.8L503.6 208.4L504.1 206.9L504.4 206.3L504.8 206.1L505.1 206.2L505.5 206.6L506 207.9L506.7 210.9L507.2 214.3L508.1 222.7L508.9 236.4L509.4 249.4L510 270.8L510.6 334.4L511.2 274.8L511.7 251.6L512.2 237.8L512.9 225.7L513.9 214.5L514.4 210.9L515.1 207.6L515.6 206.1L516 205.5L516.3 205.2L516.7 205.2L517 205.6L517.7 207.3L518.4 210.4L518.9 213.8L520 224.4L520.8 239.4L521.3 254L521.8 279.3L522.4 337.1L522.9 277.2L523.4 252.8L523.9 238.6L524.8 223.7L525.8 213.2L526.3 209.7L527 206.5L527.5 205L527.9 204.4L528.2 204.1L528.6 204.1L528.9 204.4L529.6 205.9L530.3 208.7L531 213L532 223.4L532.9 237.9L533.4 251.7L533.9 275L534.4 332.8L535.1 270.5L535.6 249.2L536.1 236L537 222L538 211.9L538.5 208.5L539.2 205.3L539.9 203.3L540.3 202.8L540.6 202.6L541 202.6L541.3 202.9L542 204.4L542.7 207.1L543.2 210L543.9 215.4L544.4 220.8L545.3 234L546 251.3L546.5 274.3L547 330.4L547.7 270.9L548.2 249.3L548.9 232.7L549.7 219.8L550.3 214.4L551 209L551.5 206.1L552.2 203.3L552.8 201.6L553.2 201.2L553.5 201L553.9 201.1L554.2 201.4L554.9 202.8L555.6 205.4L556.3 209.2L557 214.5L557.5 219.9L558.4 232.7L559 249.2L559.6 270.4L560.2 330.3L560.8 274.9L561.3 251.5L562 233.9L562.8 220.4L563.4 214.7L564 208.9L564.7 204.7L565.4 201.7L566.1 199.8L566.5 199.3L567 198.8L567.5 198.9L567.8 199.2L568.5 200.6L569.2 202.9L569.9 206.4L570.6 211.3L571.1 216.1L572.1 230L572.8 245.3L573.3 264L573.7 285.3L574 325.8L574.2 320.2L574.7 270.5L575.1 254.7L575.6 239.2L576.3 225.8L577.1 214.6L578.3 204.6L578.9 201.6L579.5 198.7L580.4 196.3L580.9 195.6L581.4 195.2L582 195.4L582.5 195.9L583.3 197.9L584.2 201.3L585.1 206.5L585.7 212.3L586.4 220.1L587.3 234.5L588 253.8L588.5 281L588.8 318.4L589 320.8L589.4 282.5L589.9 254.2L590.7 230.6L591.2 221.6L591.9 212.7L592.8 204.6L593.7 198.9L594.7 194.1L595.7 191.3L596.2 190.4L596.8 190L597.1 189.9L597.5 190L598 190.4L598.5 191.3L599 192.5L600 196.3L601.1 202.4L602.1 211.5L603 222.9L603.6 236.8L604.2 252.9L604.5 269.8L605 317.9L605.9 255.7L606.6 233.5L607.4 217.2L608.6 202.9L609.3 197.3L610.2 191.8L611.1 187.7L612.1 184.3L613 182.5L613.5 181.9L614 181.6L614.5 181.5L615 181.8L615.9 182.9L616.9 185.5L617.8 188.8L618.6 193.4L619.3 198.3L620.5 210.8L621.4 225.1L622.1 244L622.6 269.9L622.9 301.8L623.1 305.9L623.8 252.1L624.3 233.1L624.8 220.4L625.7 205.9L626.7 194L627.9 184.3L628.6 180.1L629.5 175.8L630.9 170.8L631.6 169L632.2 167.7L632.9 166.7L633.8 166.1L634.5 166L635.2 166.4L635.9 167.1L636.5 168.3L637.2 169.9L637.9 172.1L639.1 177.5L640.2 184.2L641 192.1L641.7 200.9L642.2 209.7L642.7 221.9L643.3 240.9L644 286.4L644.6 239.3L645.5 209.4L646.2 195.2L647.1 182.5L648.1 171.1L649.3 160.9L650.7 151.9L652.4 143.1L654.3 135.7L656.4 129.4L658.6 124.3L659.8 122.2L661.2 120.1L662.6 118.5L663.9 117.2L665.3 116.2L666.7 115.6L668.8 115.1L670.8 115.2L673.1 115.9L675.3 117.1L677.5 118.9L679.9 121.3L682.4 124.3L684.8 127.8L687.2 131.7L689.6 136.2L692 141.2L694.4 146.7L696.7 152.4L698.9 158.6L701 164.8L703 171.7L706.1 183.6L708.7 195.6L711.1 209.5L713 223.2L714.4 235.9L715.6 250.2L716.6 266.4L718 293.8L718.4 297L718.5 296.9L718.9 293.4L720.2 270.3L721.5 256.3L722.1 250.5L723 244.6L724 239.1L725.1 234.8L726.3 230.9L727.7 227.6L729.2 224.9L730.8 223.1L731.6 222.5L732.5 222L733.3 221.7L734.4 221.6L735.4 221.7L736.4 222L738.5 223.1" stroke="#612a87" stroke-width="2.9"/>
</g>
<line x1="221.83" y1="15.60" x2="221.83" y2="23.10" stroke="#4c4c4e" stroke-width="2.4" />
<line x1="221.83" y1="444.40" x2="221.83" y2="436.90" stroke="#4c4c4e" stroke-width="2.4" />
<line x1="325.17" y1="15.60" x2="325.17" y2="23.10" stroke="#4c4c4e" stroke-width="2.4" />
<line x1="325.17" y1="444.40" x2="325.17" y2="436.90" stroke="#4c4c4e" stroke-width="2.4" />
<line x1="428.50" y1="15.60" x2="428.50" y2="23.10" stroke="#4c4c4e" stroke-width="2.4" />
<line x1="428.50" y1="444.40" x2="428.50" y2="436.90" stroke="#4c4c4e" stroke-width="2.4" />
<line x1="531.83" y1="15.60" x2="531.83" y2="23.10" stroke="#4c4c4e" stroke-width="2.4" />
<line x1="531.83" y1="444.40" x2="531.83" y2="436.90" stroke="#4c4c4e" stroke-width="2.4" />
<line x1="635.17" y1="15.60" x2="635.17" y2="23.10" stroke="#4c4c4e" stroke-width="2.4" />
<line x1="635.17" y1="444.40" x2="635.17" y2="436.90" stroke="#4c4c4e" stroke-width="2.4" />
<line x1="118.50" y1="401.52" x2="126.00" y2="401.52" stroke="#4c4c4e" stroke-width="2.4" />
<line x1="738.50" y1="401.52" x2="731.00" y2="401.52" stroke="#4c4c4e" stroke-width="2.4" />
<line x1="118.50" y1="358.64" x2="126.00" y2="358.64" stroke="#4c4c4e" stroke-width="2.4" />
<line x1="738.50" y1="358.64" x2="731.00" y2="358.64" stroke="#4c4c4e" stroke-width="2.4" />
<line x1="118.50" y1="315.76" x2="126.00" y2="315.76" stroke="#4c4c4e" stroke-width="2.4" />
<line x1="738.50" y1="315.76" x2="731.00" y2="315.76" stroke="#4c4c4e" stroke-width="2.4" />
<line x1="118.50" y1="272.88" x2="126.00" y2="272.88" stroke="#4c4c4e" stroke-width="2.4" />
<line x1="738.50" y1="272.88" x2="731.00" y2="272.88" stroke="#4c4c4e" stroke-width="2.4" />
<line x1="118.50" y1="230.00" x2="126.00" y2="230.00" stroke="#4c4c4e" stroke-width="2.4" />
<line x1="738.50" y1="230.00" x2="731.00" y2="230.00" stroke="#4c4c4e" stroke-width="2.4" />
<line x1="118.50" y1="187.12" x2="126.00" y2="187.12" stroke="#4c4c4e" stroke-width="2.4" />
<line x1="738.50" y1="187.12" x2="731.00" y2="187.12" stroke="#4c4c4e" stroke-width="2.4" />
<line x1="118.50" y1="144.24" x2="126.00" y2="144.24" stroke="#4c4c4e" stroke-width="2.4" />
<line x1="738.50" y1="144.24" x2="731.00" y2="144.24" stroke="#4c4c4e" stroke-width="2.4" />
<line x1="118.50" y1="101.36" x2="126.00" y2="101.36" stroke="#4c4c4e" stroke-width="2.4" />
<line x1="738.50" y1="101.36" x2="731.00" y2="101.36" stroke="#4c4c4e" stroke-width="2.4" />
<line x1="118.50" y1="58.48" x2="126.00" y2="58.48" stroke="#4c4c4e" stroke-width="2.4" />
<line x1="738.50" y1="58.48" x2="731.00" y2="58.48" stroke="#4c4c4e" stroke-width="2.4" />
<rect x="118.5" y="15.6" width="620.0" height="428.79999999999995" fill="none" stroke="#4c4c4e" stroke-width="2.8"/>
<clipPath id="cb"><rect x="122.5" y="606.0" width="620.0" height="445.20000000000005"/></clipPath>
<g clip-path="url(#cb)" fill="none">
<path d="M122.5 985.1L130.3 976.1L138 966.6L147.4 954.7L156.7 942.3L173.8 918.7L214.2 861.3L225.1 846.3L235.9 831.8L246.8 818.1L256.1 806.9L265.5 796.5L273.2 788.4L284.1 778.2L290.3 773L295 769.5L299.6 766.2L304.3 763.2L309 760.5L315.2 757.3L319.8 755.3L326.1 753L330.7 751.6L336.9 750.1L341.6 749.3L347.8 748.7L352.5 748.4L358.7 748.5L368 749.4L372.7 750.2L378.9 751.5L383.6 752.8L389.8 754.8L400.6 759.2L411.5 764.5L422.4 770.8L433.3 778L445.7 787.1L455 794.6L465.9 803.9L476.8 813.8L487.7 824.2L507.9 844.5L559.1 897.5L571.6 909.9L584 921.8L598 934.4L610.4 944.8L622.9 954.6L636.8 964.7L649.3 973L663.3 981.4L675.7 988.2L689.7 995.1L702.1 1000.5L716.1 1005.7L728.5 1009.7L742.5 1013.4" stroke="#231815" stroke-width="5.5" stroke-dasharray="7.3 7.6"/>
</g>
<line x1="176.41" y1="606.00" x2="176.41" y2="613.00" stroke="#4c4c4e" stroke-width="2.2" />
<line x1="176.41" y1="1051.20" x2="176.41" y2="1044.20" stroke="#4c4c4e" stroke-width="2.2" />
<line x1="230.33" y1="606.00" x2="230.33" y2="613.00" stroke="#4c4c4e" stroke-width="2.2" />
<line x1="230.33" y1="1051.20" x2="230.33" y2="1044.20" stroke="#4c4c4e" stroke-width="2.2" />
<line x1="284.24" y1="606.00" x2="284.24" y2="613.00" stroke="#4c4c4e" stroke-width="2.2" />
<line x1="284.24" y1="1051.20" x2="284.24" y2="1044.20" stroke="#4c4c4e" stroke-width="2.2" />
<line x1="338.15" y1="606.00" x2="338.15" y2="613.00" stroke="#4c4c4e" stroke-width="2.2" />
<line x1="338.15" y1="1051.20" x2="338.15" y2="1044.20" stroke="#4c4c4e" stroke-width="2.2" />
<line x1="392.07" y1="606.00" x2="392.07" y2="613.00" stroke="#4c4c4e" stroke-width="2.2" />
<line x1="392.07" y1="1051.20" x2="392.07" y2="1044.20" stroke="#4c4c4e" stroke-width="2.2" />
<line x1="445.98" y1="606.00" x2="445.98" y2="613.00" stroke="#4c4c4e" stroke-width="2.2" />
<line x1="445.98" y1="1051.20" x2="445.98" y2="1044.20" stroke="#4c4c4e" stroke-width="2.2" />
<line x1="499.89" y1="606.00" x2="499.89" y2="613.00" stroke="#4c4c4e" stroke-width="2.2" />
<line x1="499.89" y1="1051.20" x2="499.89" y2="1044.20" stroke="#4c4c4e" stroke-width="2.2" />
<line x1="553.80" y1="606.00" x2="553.80" y2="613.00" stroke="#4c4c4e" stroke-width="2.2" />
<line x1="553.80" y1="1051.20" x2="553.80" y2="1044.20" stroke="#4c4c4e" stroke-width="2.2" />
<line x1="607.72" y1="606.00" x2="607.72" y2="613.00" stroke="#4c4c4e" stroke-width="2.2" />
<line x1="607.72" y1="1051.20" x2="607.72" y2="1044.20" stroke="#4c4c4e" stroke-width="2.2" />
<line x1="661.63" y1="606.00" x2="661.63" y2="613.00" stroke="#4c4c4e" stroke-width="2.2" />
<line x1="661.63" y1="1051.20" x2="661.63" y2="1044.20" stroke="#4c4c4e" stroke-width="2.2" />
<line x1="715.54" y1="606.00" x2="715.54" y2="613.00" stroke="#4c4c4e" stroke-width="2.2" />
<line x1="715.54" y1="1051.20" x2="715.54" y2="1044.20" stroke="#4c4c4e" stroke-width="2.2" />
<line x1="122.50" y1="1006.68" x2="129.50" y2="1006.68" stroke="#4c4c4e" stroke-width="2.2" />
<line x1="742.50" y1="1006.68" x2="735.50" y2="1006.68" stroke="#4c4c4e" stroke-width="2.2" />
<line x1="122.50" y1="962.16" x2="129.50" y2="962.16" stroke="#4c4c4e" stroke-width="2.2" />
<line x1="742.50" y1="962.16" x2="735.50" y2="962.16" stroke="#4c4c4e" stroke-width="2.2" />
<line x1="122.50" y1="917.64" x2="129.50" y2="917.64" stroke="#4c4c4e" stroke-width="2.2" />
<line x1="742.50" y1="917.64" x2="735.50" y2="917.64" stroke="#4c4c4e" stroke-width="2.2" />
<line x1="122.50" y1="873.12" x2="129.50" y2="873.12" stroke="#4c4c4e" stroke-width="2.2" />
<line x1="742.50" y1="873.12" x2="735.50" y2="873.12" stroke="#4c4c4e" stroke-width="2.2" />
<line x1="122.50" y1="828.60" x2="129.50" y2="828.60" stroke="#4c4c4e" stroke-width="2.2" />
<line x1="742.50" y1="828.60" x2="735.50" y2="828.60" stroke="#4c4c4e" stroke-width="2.2" />
<line x1="122.50" y1="784.08" x2="129.50" y2="784.08" stroke="#4c4c4e" stroke-width="2.2" />
<line x1="742.50" y1="784.08" x2="735.50" y2="784.08" stroke="#4c4c4e" stroke-width="2.2" />
<line x1="122.50" y1="739.56" x2="129.50" y2="739.56" stroke="#4c4c4e" stroke-width="2.2" />
<line x1="742.50" y1="739.56" x2="735.50" y2="739.56" stroke="#4c4c4e" stroke-width="2.2" />
<line x1="122.50" y1="695.04" x2="129.50" y2="695.04" stroke="#4c4c4e" stroke-width="2.2" />
<line x1="742.50" y1="695.04" x2="735.50" y2="695.04" stroke="#4c4c4e" stroke-width="2.2" />
<line x1="122.50" y1="650.52" x2="129.50" y2="650.52" stroke="#4c4c4e" stroke-width="2.2" />
<line x1="742.50" y1="650.52" x2="735.50" y2="650.52" stroke="#4c4c4e" stroke-width="2.2" />
<rect x="122.5" y="606.0" width="620.0" height="445.20000000000005" fill="none" stroke="#4c4c4e" stroke-width="2.4"/>
<clipPath id="cc"><rect x="927.7" y="15.6" width="626.0" height="433.09999999999997"/></clipPath>
<line x1="930.70" y1="445.70" x2="1544.70" y2="445.70" stroke="#333" stroke-width="2.1" />
<line x1="1544.20" y1="445.70" x2="1550.70" y2="445.70" stroke="#ea2a27" stroke-width="2.1" />
<line x1="984.61" y1="15.60" x2="984.61" y2="24.40" stroke="#111" stroke-width="2.7" />
<line x1="984.61" y1="445.70" x2="984.61" y2="437.10" stroke="#222" stroke-width="2.6" />
<line x1="1038.53" y1="15.60" x2="1038.53" y2="24.40" stroke="#111" stroke-width="2.7" />
<line x1="1038.53" y1="445.70" x2="1038.53" y2="437.10" stroke="#222" stroke-width="2.6" />
<line x1="1092.44" y1="15.60" x2="1092.44" y2="24.40" stroke="#111" stroke-width="2.7" />
<line x1="1092.44" y1="445.70" x2="1092.44" y2="437.10" stroke="#222" stroke-width="2.6" />
<line x1="1146.35" y1="15.60" x2="1146.35" y2="24.40" stroke="#111" stroke-width="2.7" />
<line x1="1146.35" y1="445.70" x2="1146.35" y2="437.10" stroke="#222" stroke-width="2.6" />
<line x1="1200.27" y1="15.60" x2="1200.27" y2="24.40" stroke="#111" stroke-width="2.7" />
<line x1="1200.27" y1="445.70" x2="1200.27" y2="437.10" stroke="#222" stroke-width="2.6" />
<line x1="1254.18" y1="15.60" x2="1254.18" y2="24.40" stroke="#111" stroke-width="2.7" />
<line x1="1254.18" y1="445.70" x2="1254.18" y2="437.10" stroke="#222" stroke-width="2.6" />
<line x1="1308.09" y1="15.60" x2="1308.09" y2="24.40" stroke="#111" stroke-width="2.7" />
<line x1="1308.09" y1="445.70" x2="1308.09" y2="437.10" stroke="#222" stroke-width="2.6" />
<line x1="1362.00" y1="15.60" x2="1362.00" y2="24.40" stroke="#111" stroke-width="2.7" />
<line x1="1362.00" y1="445.70" x2="1362.00" y2="437.10" stroke="#222" stroke-width="2.6" />
<line x1="1415.92" y1="15.60" x2="1415.92" y2="24.40" stroke="#111" stroke-width="2.7" />
<line x1="1415.92" y1="445.70" x2="1415.92" y2="437.10" stroke="#222" stroke-width="2.6" />
<line x1="1469.83" y1="15.60" x2="1469.83" y2="24.40" stroke="#111" stroke-width="2.7" />
<line x1="1469.83" y1="445.70" x2="1469.83" y2="437.10" stroke="#222" stroke-width="2.6" />
<line x1="1523.74" y1="15.60" x2="1523.74" y2="24.40" stroke="#111" stroke-width="2.7" />
<line x1="1523.74" y1="445.70" x2="1523.74" y2="437.10" stroke="#222" stroke-width="2.6" />
<line x1="929.50" y1="15.60" x2="1550.70" y2="15.60" stroke="#111" stroke-width="2.7" />
<line x1="930.70" y1="15.60" x2="930.70" y2="446.70" stroke="#e0151b" stroke-width="2.6" />
<line x1="930.70" y1="87.28" x2="936.70" y2="87.28" stroke="#e0151b" stroke-width="2.2" />
<line x1="930.70" y1="158.97" x2="936.70" y2="158.97" stroke="#e0151b" stroke-width="2.2" />
<line x1="930.70" y1="230.65" x2="936.70" y2="230.65" stroke="#e0151b" stroke-width="2.2" />
<line x1="930.70" y1="302.33" x2="936.70" y2="302.33" stroke="#e0151b" stroke-width="2.2" />
<line x1="930.70" y1="374.02" x2="936.70" y2="374.02" stroke="#e0151b" stroke-width="2.2" />
<g clip-path="url(#cc)" fill="none">
<path d="M934.2 445.7L935 433.3L935.7 428.2L937.3 421L939.6 413L942.7 404.8L946.5 396.4L951.2 388L956.6 379.6L963.5 370.2L971.2 361.1L980.5 351.1L991.3 340.4L1001.3 331L1010.6 323L1019 316.4L1029.8 308.5L1041.4 300.7L1054.5 292.4L1069.2 283.6L1085.4 274.3L1103.1 264.5L1121.6 254.7L1140.1 245.2L1159.4 235.7L1194.9 219.2L1234.2 201.7L1268.9 186.8L1347.6 153.8L1400.8 130.6L1418.5 122.5L1436.3 113.9L1453.3 105.3L1467.9 97.3L1477.2 91.9L1485.6 86.7L1494.1 81.1L1501.8 75.6L1509.6 69.9L1517.3 63.7L1523.4 58.4L1529.6 52.6L1535 47L1538.9 42.6L1541.9 38.6L1545 33.8L1547.3 29.3L1548.9 25.3L1549.7 22.5L1550.4 15.6" stroke="#ea2a27" stroke-width="5.5" />
<path d="M945 15L945.9 113.2L946.6 154.2L947.2 165.6L948.4 181.6L951 211.1L953 229.3L955.2 245.1L957.2 256.3L959.9 267.5L963.3 278.5L967.2 289.2L970.8 297.4L975.2 305.5L981.5 315.2L988.3 324.2L996 332.9L1001 337.8L1004.5 340.8L1008 343.6L1011.6 346.1L1015.4 348.5L1021.4 351.8L1031.9 356.8L1044.7 361.7L1053.4 364.6L1060 366.5L1071.1 369.3L1086.8 371.9L1105 374L1134.5 376.8L1148.2 377.5L1203 377.5L1221.2 377L1244 375.7L1273.5 372.6L1305.4 370L1316.7 368.3L1334.7 365.1L1350.5 362.4L1357.2 361.2L1363.8 359.7L1370.3 357.6L1389.5 350.2L1407.1 345.1L1413.6 343L1419.9 340.5L1428.2 336.5L1436.3 332.2L1444.1 327.5L1449.9 323.9L1455.6 319.9L1461.1 315.8L1464.5 312.9L1469.5 308.3L1474.3 303.3L1481.6 294.5L1485.7 289L1489.6 283.4L1493.2 277.5L1496.6 271.5L1502.7 259.3L1508.2 246.7L1510.6 240.3L1513.6 231.7L1519 214.2L1522.3 200.9L1525.7 183L1528.1 167.2L1529.9 151.3L1531.7 130.8L1533.6 103.5L1534.9 78.4L1535.9 48.8L1537 10" stroke="#2e3181" stroke-width="5" stroke-dasharray="15.5 15"/>
</g>
<line x1="1550.70" y1="15.60" x2="1550.70" y2="446.70" stroke="#2e3181" stroke-width="2.6" />
<line x1="1550.70" y1="374.02" x2="1543.90" y2="374.02" stroke="#2e3181" stroke-width="2.2" />
<line x1="1550.70" y1="302.33" x2="1543.90" y2="302.33" stroke="#2e3181" stroke-width="2.2" />
<line x1="1550.70" y1="230.65" x2="1543.90" y2="230.65" stroke="#2e3181" stroke-width="2.2" />
<line x1="1550.70" y1="158.97" x2="1543.90" y2="158.97" stroke="#2e3181" stroke-width="2.2" />
<line x1="1550.70" y1="87.28" x2="1543.90" y2="87.28" stroke="#2e3181" stroke-width="2.2" />
<circle cx="934" cy="445.9" r="7" fill="none" stroke="#1a1a1a" stroke-width="2.8"/>
<circle cx="951.6" cy="387.7" r="7" fill="none" stroke="#1a1a1a" stroke-width="2.8"/>
<circle cx="984" cy="347.5" r="7" fill="none" stroke="#1a1a1a" stroke-width="2.8"/>
<circle cx="1016.5" cy="318.5" r="7" fill="none" stroke="#1a1a1a" stroke-width="2.8"/>
<circle cx="1089.5" cy="272" r="7" fill="none" stroke="#1a1a1a" stroke-width="2.8"/>
<circle cx="1169.5" cy="231" r="7" fill="none" stroke="#1a1a1a" stroke-width="2.8"/>
<circle cx="1259" cy="191" r="7" fill="none" stroke="#1a1a1a" stroke-width="2.8"/>
<circle cx="1356.5" cy="150" r="7" fill="none" stroke="#1a1a1a" stroke-width="2.8"/>
<circle cx="1415" cy="124" r="7" fill="none" stroke="#1a1a1a" stroke-width="2.8"/>
<circle cx="1463" cy="100" r="7" fill="none" stroke="#1a1a1a" stroke-width="2.8"/>
<circle cx="1531.2" cy="51.2" r="7" fill="none" stroke="#1a1a1a" stroke-width="2.8"/>
<circle cx="1548.5" cy="15.5" r="7" fill="none" stroke="#1a1a1a" stroke-width="2.8"/>
<line x1="1375.50" y1="68.70" x2="1498.20" y2="68.70" stroke="#ea2a27" stroke-width="2.4" />
<path d="M1356.9 68.7 L1379.3 59.4 L1375.5 68.7 L1379.3 78.2 Z" fill="#ea2a27"/>
<line x1="1364.50" y1="377.50" x2="1476.00" y2="377.50" stroke="#2e3181" stroke-width="3" stroke-dasharray="15.3 15"/>
<path d="M1499.5 377.5 L1476.9 368.3 L1480.7 377.5 L1476.9 387.1 Z" fill="#2e3181"/>
<clipPath id="cd"><rect x="933.1" y="605.6" width="615.9" height="447.80000000000007"/></clipPath>
<g clip-path="url(#cd)" fill="none" stroke-linejoin="round">
<path d="M933.1 973.3L936.9 973.4L940.4 973.9L943.6 975L946.6 976.5L949.4 978.4L951.9 981L954.2 983.9L956.5 987.5L958.2 991.2L959.9 995L963 1004.4L966 1016.9L971 1041.4L972.2 1045.2L972.7 1046.1L973.2 1046.3L973.7 1045.8L974.3 1044.4L975.5 1039.3L981.7 998.8L983.8 987.2L986 977.5L988.3 969.3L990.6 963.2L991.8 960.9L992.9 959.2L994.1 958L995.2 957.5L996.3 957.4L997.4 958L998.5 959.1L999.6 960.8L1001.5 965.9L1003.4 973.4L1005 982.5L1006.5 993.3L1010.3 1031.6L1010.9 1035L1011.3 1035.7L1011.5 1035.5L1012.1 1033.3L1012.6 1029.2L1016 989.6L1017.3 977.8L1018.6 967.6L1020.2 958.9L1021.7 952.6L1023.3 948.4L1024.2 947.2L1025 946.6L1025.7 946.7L1026.5 947.3L1027.3 948.5L1028.1 950.3L1029.5 955.7L1030.8 962.9L1031.9 971.4L1033 982.4L1035.9 1020.6L1036.3 1023.9L1036.6 1024.7L1036.8 1024.7L1037.2 1022.7L1037.6 1018.3L1040.4 978L1042.4 956.6L1043.6 948.1L1044.9 941.5L1046.2 937.4L1046.9 936.2L1047.6 935.6L1048.2 935.7L1048.8 936.3L1050 939.1L1051.2 944.4L1052.3 951.8L1053.3 960.4L1054.2 971.5L1056.6 1008.9L1057 1012.9L1057.4 1013.8L1057.7 1012.2L1058.1 1008.4L1060.5 967.4L1062.3 945.7L1063.3 937.2L1064.4 930.7L1065.5 926.6L1066.1 925.3L1066.7 924.7L1067.3 924.8L1067.8 925.4L1068.9 928.4L1070 933.6L1070.9 940.6L1072.6 960.8L1074.8 998.3L1075.1 1002L1075.3 1002.8L1075.4 1002.9L1076 997.4L1078.2 956.5L1079.8 934.7L1080.7 926.2L1081.8 919.6L1082.8 915.6L1083.3 914.5L1083.8 913.9L1084.3 914L1084.9 914.6L1085.8 917.5L1086.7 922.6L1087.7 930.4L1089.2 950.6L1091.2 988.2L1091.5 991.7L1091.7 992.2L1091.8 992.1L1092.4 985.6L1094.3 946.2L1095.7 924.8L1096.6 916.1L1097.5 909.4L1098.5 905.2L1099 903.9L1099.5 903.3L1100 903.4L1100.4 904L1101.4 907.1L1102.2 912.2L1103.1 919.9L1104.4 938.9L1106.3 977.4L1106.6 980.6L1106.8 981.6L1107.1 980.3L1107.4 975.4L1109.2 935.3L1110.6 913.9L1111.5 904.8L1112.3 898.5L1113.2 894.5L1113.6 893.3L1114.1 892.6L1114.6 892.7L1115 893.4L1115.9 896.4L1116.8 902L1117.5 909.5L1118.8 928.6L1120.5 965.8L1121 970.8L1121.3 969.6L1121.5 966L1123.3 924L1124.6 902.9L1125.4 894.3L1126.3 887.5L1127.1 883.4L1127.5 882.3L1128 881.7L1128.4 881.7L1128.8 882.4L1129.6 885.1L1130.4 890L1131.1 897.4L1132.4 917L1134.1 955.6L1134.4 958.9L1134.6 959.7L1135.1 953L1136.7 914.7L1138 892.2L1138.7 883.1L1139.5 876.7L1140.4 872.2L1140.8 871L1141.2 870.4L1141.7 870.5L1142.1 871.2L1142.8 874.2L1143.6 879.6L1144.3 886.8L1145.5 906L1147 942.5L1147.6 948.2L1147.8 946.7L1148.1 942.5L1149.7 901L1150.9 879.7L1151.6 871.4L1152.3 864.7L1153.1 860.5L1153.5 859.1L1154 858.4L1154.4 858.5L1154.7 859L1155.5 861.9L1156.3 867.3L1157 874.6L1158.2 894.6L1159.6 930.1L1159.9 934.3L1160.1 935.8L1160.6 929.3L1162.1 890.5L1163.3 867.9L1164.7 852.7L1165.3 848.4L1166.1 845.9L1166.5 845.5L1167 845.9L1167.7 848.4L1168.5 853.6L1169.2 860.8L1170.4 880.8L1171.8 917.1L1172.1 921.3L1172.4 922.5L1172.8 917.2L1174.3 875.5L1175.4 854.3L1176.8 838.8L1177.5 834.5L1178.3 832.1L1178.7 831.8L1179 832.1L1179.8 834.7L1180.5 839.3L1181.2 846.4L1182.2 862.9L1183.7 901.3L1184.3 908L1184.5 906.4L1184.8 901.6L1186.2 860.9L1187.3 839.1L1188.6 823.9L1189.3 819.3L1190.1 816.5L1190.5 816.1L1190.8 816.3L1191.6 818.8L1192.3 823.4L1193 830.6L1193.9 845.7L1195.5 884.2L1196 891.2L1196.2 889.5L1196.5 884.6L1197.9 845.2L1199 822.2L1200.2 806.2L1200.9 801.3L1201.7 798.2L1202.1 797.7L1202.5 797.8L1203.2 800.1L1203.9 804.6L1204.6 811.8L1205.6 827.1L1207.1 865.6L1207.5 871L1207.8 869.4L1208 864.5L1209.5 822L1210.6 799.1L1211.9 783L1212.6 778L1213.3 775L1213.8 774.4L1214.1 774.6L1214.8 776.5L1215.5 780.8L1216.1 786.8L1217.2 805L1218.6 839L1218.8 842.9L1219 843.7L1219.1 843.5L1219.5 836.3L1220.9 794.3L1222 769.5L1223.3 751.4L1223.9 745.3L1224.7 741.1L1225.1 739.8L1225.5 739.4L1225.8 739.4L1226.2 740.1L1226.9 743.1L1227.4 748L1228.6 763.9L1229.9 794.7L1230.2 798L1230.4 798.3L1230.4 797.8L1230.9 789.3L1233 721.4L1234 699.5L1235.1 681.6L1236.6 664.6L1238.2 651.8L1239.1 647.3L1239.9 644.1L1240.8 642.2L1241.2 641.6L1241.7 641.4L1242.2 641.6L1242.6 642L1243.4 643.9L1244.3 646.9L1245.2 651.3L1246.8 663.8L1248.2 680.4L1249.4 699.5L1250.5 721.3L1252.6 789.2L1253.1 798.3L1253.3 798.1L1253.5 794.9L1254.9 764.1L1256 748.2L1256.6 743.3L1257.3 740.2L1257.6 739.6L1258 739.5L1258.3 739.9L1258.8 741.1L1259.5 745.4L1260.2 751.4L1261.5 769.4L1262.6 794.1L1264.1 838.3L1264.5 843.8L1264.7 842.2L1265 837.6L1266.5 801.9L1267.5 786.1L1268.2 779.7L1268.9 776L1269.2 775L1269.6 774.6L1270 774.8L1270.4 775.8L1271.1 779.1L1271.8 784.6L1273 801.7L1274.1 823.7L1275.4 864.1L1276 871.1L1276.5 864.4L1278 826.1L1278.9 811.3L1279.6 804.3L1280.4 799.7L1280.7 798.6L1281.2 797.9L1281.5 798L1281.9 798.8L1282.6 801.8L1283.3 806.9L1284.6 823.3L1285.6 844.5L1287.1 886L1287.5 891.5L1287.9 887.3L1289.4 850.5L1290.6 830.4L1291.3 823.4L1292 818.5L1292.8 816.5L1293.1 816.5L1293.6 817.1L1294.3 820.2L1295 825.2L1296.3 841.2L1297.3 861.9L1298.8 902.4L1299.2 908.3L1299.5 907.3L1299.7 903.1L1301.2 866.5L1302.4 846.6L1303.1 839.5L1303.8 834.6L1304.6 832.3L1305 832.2L1305.5 832.8L1306.2 835.8L1306.9 840.6L1308.2 855.9L1309.3 877.8L1310.8 917.4L1311.2 922.9L1311.5 921.8L1311.7 917.7L1313.2 881.5L1314.3 862.6L1315 855L1315.6 849.9L1316.3 847L1316.7 846.2L1317.1 846L1317.5 846.5L1318 847.7L1318.7 851.7L1319.5 858.3L1320.2 866.6L1321.3 886.3L1322.9 928.7L1323.4 936.2L1323.7 935.3L1323.9 931.6L1325.4 896.2L1326.5 877L1327.8 864.3L1328.5 860.7L1329.2 859L1329.7 859L1330.1 859.7L1331 863.1L1331.8 869.4L1332.6 878L1333.9 901.5L1335.6 942.9L1336.1 948.7L1336.6 943.2L1338.5 900.3L1339.9 881.9L1340.8 874.9L1341.7 871.4L1342.2 870.9L1342.8 871.3L1343.7 874.4L1345 884L1346.1 898.3L1347.1 917.8L1348.6 954L1349.1 960.3L1349.3 959.4L1349.6 955.9L1351.1 920.8L1352.2 903.4L1353.3 891.3L1353.9 887.1L1354.6 883.9L1355.1 882.6L1355.6 882.2L1356.1 882.7L1356.6 883.9L1357.6 889.1L1358.7 898.1L1360.1 918.9L1362.1 963.9L1362.7 971.4L1362.9 970.6L1363.2 967.5L1365 928.9L1366.4 909.1L1367.1 901.9L1368 896.7L1368.8 893.9L1369.3 893.3L1369.8 893.3L1370.3 894.1L1370.7 895.4L1371.6 899.5L1372.4 905.9L1373.2 914L1374.7 936.6L1376.5 976.5L1376.8 981.2L1377.1 982.3L1377.6 977.9L1379.5 939.6L1380.9 919.8L1381.8 912.4L1382.7 907.1L1383.6 904.4L1384.1 904L1384.6 904.1L1385.1 904.9L1385.5 906L1386.5 910.3L1387.4 917L1388.3 925.6L1389.7 946.9L1391.7 987.5L1392 991.8L1392.3 992.9L1392.5 992.1L1392.9 988.1L1394.9 950.7L1396.4 930.9L1397.3 923.3L1398.3 918.2L1399.3 915.3L1399.8 914.7L1400.4 914.8L1400.9 915.5L1401.4 916.8L1402.5 921.1L1403.4 927.2L1404.3 935.8L1406 957.4L1408.1 997.9L1408.5 1002.2L1408.8 1003.7L1409.1 1002.3L1409.5 998.4L1411.5 962.5L1413.2 943L1414.1 935.6L1415.1 930L1416.2 926.8L1416.7 925.9L1417.3 925.5L1417.9 925.8L1418.5 926.9L1419.7 930.8L1420.9 937.4L1422.1 946.2L1423.7 965L1426.2 1006.6L1426.9 1014.4L1427.1 1014.7L1427.4 1014L1427.8 1010.2L1430.3 972.3L1431.2 961.4L1432.2 952.2L1433.4 944.6L1434.6 939.7L1435.2 938.1L1435.9 937L1436.5 936.5L1437.2 936.6L1437.9 937.3L1438.6 938.6L1439.8 942.8L1441.1 949.3L1442.3 957.8L1444.5 979.8L1447.2 1019.3L1447.7 1024.2L1448.1 1025.6L1448.6 1024.5L1449 1021.1L1451.8 984.6L1452.9 974.3L1454 965.6L1455.2 958L1456.5 952.8L1458 949.1L1458.7 948.2L1459.4 947.6L1460.3 947.6L1461.2 948.4L1462.2 949.9L1463 951.9L1464.7 957.9L1466.5 966.6L1467.9 976.5L1469.4 989L1473.1 1030.5L1473.7 1034.8L1474.3 1036.6L1474.6 1036.5L1474.9 1035.5L1475.5 1031.8L1479.1 997.1L1480.5 986.7L1481.9 978.1L1483.6 970.7L1485.4 964.9L1487.2 961L1488.3 959.6L1489.3 958.7L1490.6 958.3L1491.9 958.5L1493.3 959.5L1494.8 961.2L1496.1 963.5L1497.6 966.6L1500.5 974.8L1503.1 984.7L1505.8 996.9L1513.4 1039.8L1514.9 1045.1L1515.6 1046.5L1516.2 1047.1L1516.7 1047.2L1517.3 1046.7L1518.5 1044L1520 1039.1L1524.1 1023.3L1526.3 1015.8L1529.2 1007.8L1532.4 1001.2L1534.2 998.3L1536.1 995.8L1538.1 993.7L1540.1 992L1542.2 990.6L1544.5 989.7L1546.7 989.2L1549 989.1" stroke="#ea2a27" stroke-width="3.0"/>
<path d="M933.1 989.8L938.1 989.7L942.6 990L946.7 990.7L950.6 991.8L954 993.1L957.3 994.9L966.2 1001L968.5 1002.4L971.1 1003.3L973.3 1003.3L974.8 1002.8L976.1 1001.9L977.5 1000.6L979 998.9L981.5 995L987.7 984.5L990.9 980L992.4 978.5L993.8 977.5L995.2 976.9L996.6 976.7L997.7 976.9L998.7 977.4L1000.8 979L1003.2 982.2L1007.1 989.1L1008.5 991.3L1010.1 992.7L1010.8 992.8L1011.5 992.7L1012.8 991.5L1014.4 988.6L1019.3 975.1L1021.3 970.6L1023.1 967.6L1024 966.6L1024.9 966.1L1025.7 965.9L1026.6 966.1L1027.5 966.6L1028.3 967.5L1030.3 970.8L1033.5 978.3L1034.7 980.6L1035.4 981.4L1036 981.8L1036.6 981.8L1037.2 981.4L1038.1 979.9L1039.2 977.3L1042.8 964.5L1044.4 960L1046 956.6L1046.8 955.6L1047.6 955.1L1048.2 954.9L1048.9 955.1L1049.6 955.7L1050.4 956.7L1051.9 959.8L1055.5 969.4L1056.5 970.8L1057 971L1057.6 970.7L1058.4 969.4L1059.4 966.7L1062.6 953.7L1064.1 948.8L1065.4 945.6L1066.1 944.7L1066.7 944.2L1067.3 944L1067.9 944.2L1069.2 945.8L1070.6 948.9L1073.7 958.4L1074.7 959.9L1075.1 960.1L1075.5 959.9L1076.3 958.6L1077.2 956L1080.1 942.7L1081.4 937.9L1082.6 934.8L1083.2 933.9L1083.8 933.4L1084.3 933.2L1084.9 933.5L1086.1 935.1L1087.3 938.2L1090.2 947.6L1091 949.2L1091.4 949.4L1091.8 949.2L1092.5 947.9L1093.3 945.3L1096.1 932.2L1097.3 927.3L1098.4 924.3L1099 923.3L1099.5 922.8L1100 922.6L1100.5 922.8L1101.6 924.5L1102.7 927.6L1105.4 937L1106.2 938.6L1106.5 938.8L1106.8 938.7L1107.5 937.6L1108.3 934.9L1110.9 921.4L1112.1 916.6L1113.2 913.4L1114.2 912L1114.6 911.9L1115.1 912.2L1116.2 913.9L1117.2 916.9L1119.7 926.2L1120.4 927.7L1120.7 928L1121 927.9L1121.7 926.7L1122.4 924.2L1125 910.4L1126 905.7L1126.9 902.8L1127.9 901.2L1128.4 901L1128.9 901.2L1129.9 902.9L1131 906.1L1133.2 914.9L1133.8 916.4L1134.3 916.9L1134.6 916.8L1135.1 916L1135.8 913.3L1138.3 899.3L1139.3 894.4L1140.3 891.4L1141.1 890L1141.6 889.7L1142 889.8L1142.9 891.2L1144 894.3L1146.4 903.9L1147 905.2L1147.4 905.4L1147.7 905.1L1148.3 903.6L1148.9 901L1152.1 882.9L1153.1 879.4L1154.1 877.8L1154.5 877.7L1154.9 878L1155.8 879.4L1156.7 882.5L1158.9 891.5L1159.5 892.8L1159.9 893L1160.1 892.9L1160.7 891.6L1161.4 888.6L1164.5 870.3L1165.3 867.3L1166 865.5L1166.5 865L1167 864.9L1167.4 865.2L1167.9 866.1L1168.9 869.2L1171.2 878.3L1171.8 879.6L1172.1 879.8L1172.4 879.6L1173 878.2L1173.6 875.5L1176.6 857L1177.3 853.8L1178.1 851.8L1178.5 851.3L1179 851.1L1179.5 851.4L1180 852.3L1180.9 855.1L1183.1 863.8L1183.7 865.2L1184 865.4L1184.3 865.2L1184.8 863.8L1185.4 861L1188.4 841.6L1189.2 838.3L1190 836.2L1190.4 835.6L1190.8 835.4L1191.3 835.7L1191.8 836.4L1192.7 839.1L1194.9 847.5L1195.5 848.6L1195.7 848.6L1196 848.4L1196.6 846.8L1197.2 843.8L1200.2 823.5L1200.9 820L1201.7 817.9L1202.1 817.2L1202.6 817L1203 817.2L1203.5 817.9L1204.4 820.2L1206.3 827.5L1206.8 828.5L1207.1 828.7L1207.3 828.6L1207.9 827.2L1208.6 823.9L1211.8 801L1212.6 797.2L1213.3 794.8L1214.1 793.7L1214.5 793.7L1215 794L1215.8 795.7L1217.9 801.7L1218.2 802.2L1218.5 802.2L1219 801.4L1219.6 799L1220.2 795.1L1223.2 769.9L1224.6 761.9L1225.5 759.3L1225.9 758.6L1226.4 758.2L1227.2 758.5L1228.7 760.4L1229.3 760.5L1229.9 759.5L1230.4 757.3L1231.7 746.4L1235.1 707.4L1236.9 691.6L1238.1 684L1239.3 678.7L1240.5 675.4L1241 674.6L1241.7 674.2L1242.4 674.6L1243 675.4L1244.2 678.7L1245.4 684L1246.6 691.6L1248.4 707.4L1251.7 746.4L1253 757.3L1253.5 759.5L1254.1 760.6L1254.7 760.5L1256.3 758.6L1257 758.3L1257.6 758.7L1258 759.4L1258.8 762L1260.3 769.9L1263.3 795.2L1263.9 799.1L1264.5 801.5L1265 802.3L1265.3 802.3L1265.6 801.9L1267.7 795.7L1268.6 794.1L1269 793.8L1269.4 793.9L1270.2 795.1L1271.1 798L1272 803L1275 824.9L1275.6 827.6L1276.1 828.7L1276.4 828.9L1276.6 828.7L1277.1 827.7L1279.1 820.5L1280.1 818L1280.6 817.3L1281 817.2L1281.4 817.5L1281.9 818.2L1282.6 820.5L1283.4 824L1286.4 844.4L1287 847.3L1287.6 848.8L1287.8 848.9L1288.1 848.8L1288.7 847.6L1290.7 839.6L1291.7 836.8L1292.2 836L1292.6 835.8L1293.1 836L1293.6 836.6L1294.3 838.7L1295.1 842.1L1298.1 861.4L1298.7 864.2L1299.3 865.6L1299.6 865.7L1299.8 865.6L1300.4 864.4L1302.6 855.4L1303.6 852.6L1304.1 851.8L1304.5 851.5L1305 851.6L1305.5 852.2L1306.2 854.2L1307 857.3L1310 875.8L1310.6 878.6L1311.2 880L1311.5 880.2L1311.8 880L1312.4 878.8L1314.6 869.7L1315.6 866.6L1316.2 865.7L1316.6 865.4L1317.1 865.4L1317.5 865.9L1318.3 867.7L1319.1 871L1322.2 889.3L1322.8 891.9L1323.4 893.3L1323.7 893.5L1324 893.3L1324.7 891.9L1326.9 882.8L1327.9 879.9L1328.7 878.4L1329.2 878.2L1329.6 878.4L1330.5 879.9L1331.6 883.4L1334.6 901L1335.7 905.3L1336.3 905.9L1336.7 905.7L1337 905.1L1337.7 903L1339.5 895.6L1340.4 892.5L1341.5 890.5L1342 890.3L1342.5 890.5L1343.4 892L1344.4 895.1L1347.8 913.6L1348.5 916.2L1349.1 917.4L1349.4 917.5L1349.8 917.2L1350.5 915.7L1352.9 906.4L1353.9 903.3L1354.8 901.8L1355.3 901.6L1355.8 901.7L1356.8 903.3L1357.8 906.5L1361.3 924.6L1362 927.2L1362.7 928.5L1363 928.6L1363.4 928.4L1364.1 927L1366.6 917.5L1367.7 914.3L1368.8 912.8L1369.3 912.6L1369.7 912.7L1370.7 914.2L1371.8 917.4L1373 922.2L1375.5 935.4L1376.3 938.1L1377 939.3L1377.3 939.5L1377.7 939.2L1378.5 937.7L1381.2 928.3L1382.4 925L1383.5 923.5L1384 923.3L1384.5 923.5L1385.6 925L1386.7 928.1L1387.9 933L1390.7 946L1391.4 948.6L1392.2 949.9L1392.5 950.1L1393 949.9L1393.8 948.4L1396.7 938.9L1398 935.7L1399.2 934.2L1399.8 934L1400.3 934.2L1400.9 934.7L1401.5 935.7L1402.7 938.8L1404 943.6L1407 956.7L1407.9 959.4L1408.6 960.7L1409.1 960.9L1409.5 960.8L1410.4 959.4L1413.7 949.7L1415 946.6L1416.3 945.1L1417 944.9L1417.6 945L1418.3 945.6L1419 946.7L1420.3 949.9L1421.7 954.5L1425 967.3L1425.8 969.8L1426.7 971.4L1427.2 971.8L1427.7 971.8L1428.2 971.4L1428.8 970.5L1429.8 968.2L1432.7 960.5L1434.3 957.4L1435.1 956.4L1435.7 956L1436.4 955.8L1437.2 956L1437.9 956.5L1438.7 957.5L1440.2 960.6L1441.8 965.3L1445.8 978.8L1447 981.5L1448.1 982.7L1448.7 982.8L1449.3 982.6L1450.5 981.1L1454.6 972.1L1456.4 969L1458.1 967.3L1458.8 966.9L1459.7 966.9L1460.6 967.2L1461.7 968L1463.7 970.9L1465.9 975.8L1471.2 989.6L1472.9 992.5L1473.6 993.3L1474.4 993.7L1475.1 993.8L1475.9 993.5L1477.4 992.1L1478.9 990L1483 983.2L1485.5 979.9L1486.7 978.9L1487.9 978.1L1489.1 977.7L1490.3 977.6L1491.7 977.8L1493.1 978.5L1494.7 979.6L1496.2 981.1L1499.6 985.3L1506.1 995.3L1509 999.2L1512 1002.3L1513.6 1003.3L1515.1 1004L1517.9 1004.3L1520.9 1003.8L1523.8 1002.8L1532.6 998.9L1538.4 997.1L1543.6 996.2L1549 996.1" stroke="#2c9047" stroke-width="3.2"/>
<path d="M933.1 994.7L942.5 994.4L949.7 994.4L967.9 995.3L970.9 995.2L973.6 994.8L976.6 993.9L979.7 992.6L982.8 990.8L990.6 985.8L993 984.6L995.2 983.8L997.6 983.3L1000 983.3L1006.6 984.6L1008.5 984.8L1010.2 984.6L1011.7 984.1L1013.3 983.3L1015 981.9L1022.2 974.7L1023.9 973.5L1025.5 972.8L1026.9 972.5L1028.5 972.5L1034.3 973.8L1035.5 973.7L1036.6 973.4L1037.8 972.6L1039 971.6L1044.6 964.4L1046.1 962.9L1047.5 962L1048.8 961.5L1050.2 961.5L1054.3 962.7L1055.5 962.9L1056.7 962.7L1057.8 962.1L1059.9 960L1064.5 953.1L1065.7 951.9L1066.8 951L1068 950.6L1069.2 950.6L1073.6 952L1074.6 951.9L1075.5 951.5L1076.5 950.6L1077.5 949.3L1081.9 942.2L1082.9 941L1083.9 940.2L1084.9 939.8L1086 939.8L1089.2 941.1L1090.2 941.3L1091 941.2L1091.8 940.8L1093.4 939L1097.3 932.2L1098.3 930.8L1099.2 929.9L1100.2 929.3L1101.2 929.2L1102.2 929.4L1105 930.7L1105.9 930.7L1106.7 930.3L1107.5 929.6L1108.4 928.5L1112.1 921.6L1113 920.1L1113.9 919.2L1114.8 918.6L1115.7 918.5L1116.7 918.7L1119.3 919.9L1120.1 919.9L1120.9 919.6L1121.6 918.9L1122.4 917.8L1126.1 910.5L1127 909.1L1127.9 908.2L1128.7 907.7L1129.6 907.5L1130.4 907.8L1132.8 908.9L1133.5 908.9L1134.2 908.7L1135 908L1135.8 906.8L1139.3 899.5L1140.3 897.9L1141.1 896.9L1141.9 896.4L1142.7 896.2L1143.5 896.4L1146.1 897.5L1146.9 897.3L1147.6 896.8L1148.9 894.9L1152.1 887.8L1153.7 885.1L1154.5 884.5L1155.3 884.2L1156.2 884.3L1158.6 885.2L1159.4 885.1L1160 884.6L1161.4 882.5L1164.6 875L1166.2 872.3L1167 871.6L1167.7 871.3L1168.6 871.4L1170.7 872.1L1171.4 872L1172 871.6L1172.7 870.9L1173.5 869.5L1176.7 861.4L1178.3 858.5L1179 857.8L1179.7 857.5L1180.6 857.5L1182.8 857.9L1183.6 857.6L1184.3 856.9L1185.5 854.6L1188.5 846.3L1190 843.3L1190.8 842.3L1191.5 841.8L1192.3 841.6L1194.5 841.5L1195.2 841.2L1195.8 840.5L1197.2 837.8L1200.2 828.5L1201.8 825L1202.6 823.9L1203.3 823.2L1205.6 822.4L1206.4 822L1207.1 821.2L1207.8 820L1209 816.8L1211.7 807.1L1213.2 802.9L1214.7 800.1L1217.1 797.6L1218 796.4L1218.9 794.4L1219.8 791.8L1224.5 771.2L1226 766.6L1228.9 759.1L1230.4 753.7L1232 744.7L1235.8 718.8L1237.9 708.3L1238.9 704.6L1239.9 702.2L1240.8 700.8L1241.7 700.3L1242.7 700.8L1243.6 702.2L1244.6 704.7L1245.6 708.4L1247.6 718.9L1251.5 744.7L1253.1 753.7L1254.6 759.2L1257.6 766.9L1258.9 771.3L1263.7 791.9L1264.6 794.5L1265.5 796.6L1266.4 797.7L1268.8 800.2L1270.3 803L1271.8 807.2L1274.6 817.1L1275.8 820.3L1276.5 821.4L1277.1 822.2L1277.8 822.6L1280.1 823.4L1280.9 824.1L1281.7 825.2L1283.2 828.7L1286.3 838L1287.8 840.9L1288.4 841.5L1289 841.9L1291.2 841.9L1292 842.1L1292.8 842.7L1293.6 843.7L1295 846.7L1297.9 854.8L1299.3 857.3L1300 858L1300.8 858.2L1303 857.8L1303.8 857.9L1304.5 858.2L1305.2 858.9L1306.8 861.7L1310.1 869.9L1310.9 871.2L1311.5 872L1312.1 872.4L1312.8 872.5L1315 871.8L1315.8 871.8L1316.6 872L1317.4 872.7L1319 875.4L1322.2 883.1L1323.6 885.1L1324.3 885.6L1325.1 885.7L1327.4 884.8L1328.2 884.7L1329.1 885L1329.8 885.6L1331.5 888.1L1334.7 895.5L1336 897.3L1336.7 897.8L1337.4 898L1338.1 897.9L1340.8 896.8L1341.6 896.9L1342.5 897.4L1343.4 898.4L1344.3 899.9L1347.9 907.4L1348.7 908.6L1349.5 909.3L1350.2 909.5L1350.9 909.4L1353.2 908.4L1354.1 908.1L1355.1 908.3L1355.9 908.8L1356.8 909.8L1357.7 911.2L1361.3 918.4L1362.2 919.6L1362.9 920.3L1363.7 920.6L1364.5 920.5L1367.1 919.4L1368.1 919.1L1369 919.3L1369.9 919.8L1370.8 920.8L1371.8 922.2L1375.5 929.2L1376.4 930.3L1377.1 931L1378 931.4L1378.9 931.4L1381.7 930.1L1382.8 929.9L1383.8 930L1384.8 930.6L1385.7 931.5L1386.7 933L1390.6 939.7L1392.3 941.6L1393.1 941.9L1393.9 942L1398 940.6L1399.1 940.6L1400.2 941L1401.2 941.8L1402.3 943.1L1406.7 950.1L1407.7 951.4L1408.6 952.3L1409.6 952.7L1410.5 952.8L1411.6 952.6L1415.1 951.4L1416.3 951.5L1417.5 951.9L1418.6 952.7L1419.8 954L1424.5 960.8L1426.6 963L1427.7 963.6L1428.9 963.8L1430.2 963.6L1434.4 962.3L1435.8 962.4L1437.2 962.9L1438.6 963.9L1440 965.3L1445.8 972.4L1447 973.6L1448.2 974.3L1449.4 974.7L1450.6 974.8L1456.5 973.4L1458.2 973.4L1459.7 973.7L1461.4 974.5L1463.1 975.7L1470.5 982.8L1472.4 984.2L1474.1 985.1L1475.7 985.6L1477.5 985.7L1486.4 984.2L1488.9 984.2L1491.3 984.7L1493.7 985.4L1496.2 986.6L1504.6 991.5L1507.9 993.2L1511.2 994.6L1514.4 995.4L1517.9 996L1522.1 996.3L1538.9 996.1L1549 996.4" stroke="#21509f" stroke-width="3.2"/>
<path d="M933.1 997.9L945.8 997.1L960.4 995.5L971 994L979.8 992.2L1003.8 985.5L1009.8 983.6L1014.8 981.7L1025.2 977L1034.8 973L1038.9 971L1047.6 966.1L1057.9 960.9L1066.7 955.2L1075.3 950.4L1083.7 944.5L1091.4 939.9L1099.4 933.9L1107.3 928.7L1114 923.3L1121 918.4L1127.9 912.4L1134.6 907.3L1141.1 901.3L1148.2 895.2L1153.9 889.3L1160.1 883.6L1166.3 876.6L1172.2 870.7L1178.3 863.2L1184.4 856.1L1196.9 838.6L1207.9 820.2L1217.6 800L1221.1 791.2L1227.3 773.5L1230.2 764.5L1234.7 749.4L1236.6 743.9L1238 740.7L1239.3 738.5L1240.5 737.1L1241.7 736.7L1242.9 737.2L1244.2 738.5L1245.5 740.7L1246.9 743.9L1248.7 749.4L1253.3 764.6L1256.2 773.5L1262.3 791.3L1265.9 800.1L1275.5 820.3L1286.6 838.9L1299 856.4L1305.4 863.7L1311.5 871.2L1317.3 877L1323.4 884L1329.8 889.8L1335.4 895.7L1342.7 901.8L1349 907.8L1355.8 913L1362.7 918.9L1369.8 923.9L1376.5 929.4L1384.7 934.7L1392.7 940.7L1400.3 945.2L1408.9 951.2L1417.6 956.1L1426.4 961.7L1437.1 967L1445.7 971.8L1449.7 973.8L1460.3 978.1L1470.7 982.6L1475.7 984.5L1481.8 986.3L1504.5 992.2L1513.2 994.1L1524 995.6L1536.8 997L1549 997.8" stroke="#231815" stroke-width="3.3"/>
</g>
<line x1="1035.75" y1="605.60" x2="1035.75" y2="611.60" stroke="#3b3738" stroke-width="1.5" />
<line x1="1035.75" y1="1053.40" x2="1035.75" y2="1047.40" stroke="#3b3738" stroke-width="1.5" />
<line x1="1138.40" y1="605.60" x2="1138.40" y2="611.60" stroke="#3b3738" stroke-width="1.5" />
<line x1="1138.40" y1="1053.40" x2="1138.40" y2="1047.40" stroke="#3b3738" stroke-width="1.5" />
<line x1="1241.05" y1="605.60" x2="1241.05" y2="611.60" stroke="#3b3738" stroke-width="1.5" />
<line x1="1241.05" y1="1053.40" x2="1241.05" y2="1047.40" stroke="#3b3738" stroke-width="1.5" />
<line x1="1343.70" y1="605.60" x2="1343.70" y2="611.60" stroke="#3b3738" stroke-width="1.5" />
<line x1="1343.70" y1="1053.40" x2="1343.70" y2="1047.40" stroke="#3b3738" stroke-width="1.5" />
<line x1="1446.35" y1="605.60" x2="1446.35" y2="611.60" stroke="#3b3738" stroke-width="1.5" />
<line x1="1446.35" y1="1053.40" x2="1446.35" y2="1047.40" stroke="#3b3738" stroke-width="1.5" />
<line x1="933.10" y1="680.23" x2="939.40" y2="680.23" stroke="#3b3738" stroke-width="1.5" />
<line x1="1549.00" y1="680.23" x2="1542.70" y2="680.23" stroke="#3b3738" stroke-width="1.5" />
<line x1="933.10" y1="754.87" x2="939.40" y2="754.87" stroke="#3b3738" stroke-width="1.5" />
<line x1="1549.00" y1="754.87" x2="1542.70" y2="754.87" stroke="#3b3738" stroke-width="1.5" />
<line x1="933.10" y1="829.50" x2="939.40" y2="829.50" stroke="#3b3738" stroke-width="1.5" />
<line x1="1549.00" y1="829.50" x2="1542.70" y2="829.50" stroke="#3b3738" stroke-width="1.5" />
<line x1="933.10" y1="904.13" x2="939.40" y2="904.13" stroke="#3b3738" stroke-width="1.5" />
<line x1="1549.00" y1="904.13" x2="1542.70" y2="904.13" stroke="#3b3738" stroke-width="1.5" />
<line x1="933.10" y1="978.77" x2="939.40" y2="978.77" stroke="#3b3738" stroke-width="1.5" />
<line x1="1549.00" y1="978.77" x2="1542.70" y2="978.77" stroke="#3b3738" stroke-width="1.5" />
<rect x="933.1" y="605.6" width="615.9" height="447.80000000000007" fill="none" stroke="#3b3738" stroke-width="1.7"/>
<line x1="1331.00" y1="640.60" x2="1363.50" y2="640.60" stroke="#ea2a27" stroke-width="4.9" />
<line x1="1331.80" y1="671.20" x2="1367.90" y2="671.20" stroke="#2c9047" stroke-width="2.8" />
<line x1="1332.80" y1="707.50" x2="1368.90" y2="707.50" stroke="#21509f" stroke-width="2.9" />
<line x1="1333.90" y1="742.60" x2="1370.10" y2="742.60" stroke="#231815" stroke-width="3" />
<text transform="translate(102.55,31.10) scale(1,1.045)" font-size="41.3" fill="#000" stroke="#000" stroke-width="0.3" text-anchor="end" font-family='"Liberation Sans", Arial, Helvetica, sans-serif' xml:space="preserve">40</text>
<text transform="translate(102.65,115.30) scale(1,1.045)" font-size="41.3" fill="#000" stroke="#000" stroke-width="0.3" text-anchor="end" font-family='"Liberation Sans", Arial, Helvetica, sans-serif' xml:space="preserve">20</text>
<text transform="translate(102.55,199.50) scale(1,1.045)" font-size="41.3" fill="#000" stroke="#000" stroke-width="0.3" text-anchor="end" font-family='"Liberation Sans", Arial, Helvetica, sans-serif' xml:space="preserve">0</text>
<text transform="translate(102.70,285.10) scale(1,1.045)" font-size="41.3" fill="#000" stroke="#000" stroke-width="0.3" text-anchor="end" font-family='"Liberation Sans", Arial, Helvetica, sans-serif' xml:space="preserve">-20</text>
<text transform="translate(102.25,371.30) scale(1,1.045)" font-size="41.3" fill="#000" stroke="#000" stroke-width="0.3" text-anchor="end" font-family='"Liberation Sans", Arial, Helvetica, sans-serif' xml:space="preserve">-40</text>
<text transform="translate(102.25,455.70) scale(1,1.045)" font-size="41.3" fill="#000" stroke="#000" stroke-width="0.3" text-anchor="end" font-family='"Liberation Sans", Arial, Helvetica, sans-serif' xml:space="preserve">-60</text>
<text transform="translate(114.50,488.95) scale(1,1.045)" font-size="41.3" fill="#000" stroke="#000" stroke-width="0.3" text-anchor="middle" font-family='"Liberation Sans", Arial, Helvetica, sans-serif' xml:space="preserve">-90</text>
<text transform="translate(217.90,488.95) scale(1,1.045)" font-size="41.3" fill="#000" stroke="#000" stroke-width="0.3" text-anchor="middle" font-family='"Liberation Sans", Arial, Helvetica, sans-serif' xml:space="preserve">-60</text>
<text transform="translate(321.20,488.95) scale(1,1.045)" font-size="41.3" fill="#000" stroke="#000" stroke-width="0.3" text-anchor="middle" font-family='"Liberation Sans", Arial, Helvetica, sans-serif' xml:space="preserve">-30</text>
<text transform="translate(432.00,488.95) scale(1,1.045)" font-size="41.3" fill="#000" stroke="#000" stroke-width="0.3" text-anchor="middle" font-family='"Liberation Sans", Arial, Helvetica, sans-serif' xml:space="preserve">0</text>
<text transform="translate(532.00,488.95) scale(1,1.045)" font-size="41.3" fill="#000" stroke="#000" stroke-width="0.3" text-anchor="middle" font-family='"Liberation Sans", Arial, Helvetica, sans-serif' xml:space="preserve">30</text>
<text transform="translate(638.60,488.95) scale(1,1.045)" font-size="41.3" fill="#000" stroke="#000" stroke-width="0.3" text-anchor="middle" font-family='"Liberation Sans", Arial, Helvetica, sans-serif' xml:space="preserve">60</text>
<text transform="translate(742.10,488.95) scale(1,1.045)" font-size="41.3" fill="#000" stroke="#000" stroke-width="0.3" text-anchor="middle" font-family='"Liberation Sans", Arial, Helvetica, sans-serif' xml:space="preserve">90</text>
<text transform="translate(147.40,66.55) scale(1,1.045)" font-size="46" fill="#000" stroke="#000" stroke-width="0.3" text-anchor="start" font-family='"Liberation Sans", Arial, Helvetica, sans-serif' xml:space="preserve">(a)</text>
<text transform="translate(27.70,222.85) rotate(-90) scale(1,1.045)" font-size="36" fill="#231815" stroke="#231815" stroke-width="0.3" text-anchor="middle" font-family='"Liberation Sans", Arial, Helvetica, sans-serif' xml:space="preserve">Gain  (dBi)</text>
<text transform="translate(332.40,531.55) scale(1.07,1)" font-size="40" fill="#231815" stroke="#231815" stroke-width="0.3" text-anchor="start" font-family='"Liberation Serif", "DejaVu Serif", serif' xml:space="preserve">φ</text>
<text transform="translate(367.90,531.85) scale(1,1.045)" font-size="36" fill="#231815" stroke="#231815" stroke-width="0.3" text-anchor="start" font-family='"Liberation Sans", Arial, Helvetica, sans-serif' xml:space="preserve">(degree)</text>
<text transform="translate(208.60,104.20) scale(1,1.045)" font-size="30.5" fill="#231815" stroke="#231815" stroke-width="0.3" text-anchor="middle" font-family='"Liberation Sans", Arial, Helvetica, sans-serif' xml:space="preserve">8.25</text>
<text transform="translate(325.65,83.45) scale(1,1.045)" font-size="30.5" fill="#1e50a2" stroke="#1e50a2" stroke-width="0.3" text-anchor="middle" font-family='"Liberation Sans", Arial, Helvetica, sans-serif' xml:space="preserve">8.4</text>
<text transform="translate(423.40,75.45) scale(1,1.045)" font-size="30.5" fill="#ea2a27" stroke="#ea2a27" stroke-width="0.3" text-anchor="middle" font-family='"Liberation Sans", Arial, Helvetica, sans-serif' xml:space="preserve">8.64</text>
<text transform="translate(549.20,82.95) scale(1,1.045)" font-size="30.5" fill="#1a97d5" stroke="#1a97d5" stroke-width="0.3" text-anchor="middle" font-family='"Liberation Sans", Arial, Helvetica, sans-serif' xml:space="preserve">9.0</text>
<text transform="translate(671.75,106.50) scale(1,1.045)" font-size="30.5" fill="#612a87" stroke="#612a87" stroke-width="0.3" text-anchor="middle" font-family='"Liberation Sans", Arial, Helvetica, sans-serif' xml:space="preserve">9.3</text>
<text transform="translate(98.85,638.95) scale(1,1.045)" font-size="41.3" fill="#000" stroke="#000" stroke-width="0.3" text-anchor="end" font-family='"Liberation Sans", Arial, Helvetica, sans-serif' xml:space="preserve">1</text>
<text transform="translate(98.20,721.65) scale(1,1.045)" font-size="41.3" fill="#000" stroke="#000" stroke-width="0.3" text-anchor="end" font-family='"Liberation Sans", Arial, Helvetica, sans-serif' xml:space="preserve">0.8</text>
<text transform="translate(102.80,809.70) scale(1,1.045)" font-size="41.3" fill="#000" stroke="#000" stroke-width="0.3" text-anchor="end" font-family='"Liberation Sans", Arial, Helvetica, sans-serif' xml:space="preserve">0.6</text>
<text transform="translate(102.30,893.73) scale(1,1.045)" font-size="41.3" fill="#000" stroke="#000" stroke-width="0.3" text-anchor="end" font-family='"Liberation Sans", Arial, Helvetica, sans-serif' xml:space="preserve">0.4</text>
<text transform="translate(102.25,978.30) scale(1,1.045)" font-size="41.3" fill="#000" stroke="#000" stroke-width="0.3" text-anchor="end" font-family='"Liberation Sans", Arial, Helvetica, sans-serif' xml:space="preserve">0.2</text>
<text transform="translate(101.90,1064.40) scale(1,1.045)" font-size="41.3" fill="#000" stroke="#000" stroke-width="0.3" text-anchor="end" font-family='"Liberation Sans", Arial, Helvetica, sans-serif' xml:space="preserve">0</text>
<text transform="translate(126.00,1105.40) scale(1,1.045)" font-size="41.3" fill="#000" stroke="#000" stroke-width="0.3" text-anchor="middle" font-family='"Liberation Sans", Arial, Helvetica, sans-serif' xml:space="preserve">8.2</text>
<text transform="translate(233.70,1105.40) scale(1,1.045)" font-size="41.3" fill="#000" stroke="#000" stroke-width="0.3" text-anchor="middle" font-family='"Liberation Sans", Arial, Helvetica, sans-serif' xml:space="preserve">8.4</text>
<text transform="translate(341.00,1105.40) scale(1,1.045)" font-size="41.3" fill="#000" stroke="#000" stroke-width="0.3" text-anchor="middle" font-family='"Liberation Sans", Arial, Helvetica, sans-serif' xml:space="preserve">8.6</text>
<text transform="translate(448.80,1105.40) scale(1,1.045)" font-size="41.3" fill="#000" stroke="#000" stroke-width="0.3" text-anchor="middle" font-family='"Liberation Sans", Arial, Helvetica, sans-serif' xml:space="preserve">8.8</text>
<text transform="translate(556.00,1105.40) scale(1,1.045)" font-size="41.3" fill="#000" stroke="#000" stroke-width="0.3" text-anchor="middle" font-family='"Liberation Sans", Arial, Helvetica, sans-serif' xml:space="preserve">9.0</text>
<text transform="translate(666.20,1105.40) scale(1,1.045)" font-size="41.3" fill="#000" stroke="#000" stroke-width="0.3" text-anchor="middle" font-family='"Liberation Sans", Arial, Helvetica, sans-serif' xml:space="preserve">9.2</text>
<text transform="translate(159.55,666.60) scale(1,1.045)" font-size="46" fill="#000" stroke="#000" stroke-width="0.3" text-anchor="start" font-family='"Liberation Sans", Arial, Helvetica, sans-serif' xml:space="preserve">(b)</text>
<text transform="translate(24.85,811.80) rotate(-90) scale(1,1.045)" font-size="36" fill="#231815" stroke="#231815" stroke-width="0.3" text-anchor="middle" font-family='"Liberation Sans", Arial, Helvetica, sans-serif' xml:space="preserve">Eefficiency</text>
<text transform="translate(462.00,1147.20) scale(1,1.045)" font-size="36" fill="#000" stroke="#000" stroke-width="0.3" text-anchor="middle" font-family='"Liberation Sans", Arial, Helvetica, sans-serif' xml:space="preserve">Frequency (GHz)</text>
<text transform="translate(914.50,29.30) scale(1,1.045)" font-size="40.6" fill="#ea2a27" stroke="#ea2a27" stroke-width="0.3" text-anchor="end" font-family='"Liberation Sans", Arial, Helvetica, sans-serif' xml:space="preserve">90</text>
<text transform="translate(914.50,100.70) scale(1,1.045)" font-size="40.6" fill="#ea2a27" stroke="#ea2a27" stroke-width="0.3" text-anchor="end" font-family='"Liberation Sans", Arial, Helvetica, sans-serif' xml:space="preserve">60</text>
<text transform="translate(914.50,172.10) scale(1,1.045)" font-size="40.6" fill="#ea2a27" stroke="#ea2a27" stroke-width="0.3" text-anchor="end" font-family='"Liberation Sans", Arial, Helvetica, sans-serif' xml:space="preserve">30</text>
<text transform="translate(914.50,242.50) scale(1,1.045)" font-size="40.6" fill="#ea2a27" stroke="#ea2a27" stroke-width="0.3" text-anchor="end" font-family='"Liberation Sans", Arial, Helvetica, sans-serif' xml:space="preserve">0</text>
<text transform="translate(914.50,313.90) scale(1,1.045)" font-size="40.6" fill="#ea2a27" stroke="#ea2a27" stroke-width="0.3" text-anchor="end" font-family='"Liberation Sans", Arial, Helvetica, sans-serif' xml:space="preserve">-30</text>
<text transform="translate(914.50,385.30) scale(1,1.045)" font-size="40.6" fill="#ea2a27" stroke="#ea2a27" stroke-width="0.3" text-anchor="end" font-family='"Liberation Sans", Arial, Helvetica, sans-serif' xml:space="preserve">-60</text>
<text transform="translate(914.50,456.70) scale(1,1.045)" font-size="40.6" fill="#ea2a27" stroke="#ea2a27" stroke-width="0.3" text-anchor="end" font-family='"Liberation Sans", Arial, Helvetica, sans-serif' xml:space="preserve">-90</text>
<text transform="translate(1587.20,30.35) scale(1,1.045)" font-size="40.3" fill="#2e3181" stroke="#2e3181" stroke-width="0.3" text-anchor="middle" font-family='"Liberation Sans", Arial, Helvetica, sans-serif' xml:space="preserve">13</text>
<text transform="translate(1586.60,99.55) scale(1,1.045)" font-size="40.3" fill="#2e3181" stroke="#2e3181" stroke-width="0.3" text-anchor="middle" font-family='"Liberation Sans", Arial, Helvetica, sans-serif' xml:space="preserve">11</text>
<text transform="translate(1583.00,171.60) scale(1,1.045)" font-size="40.3" fill="#2e3181" stroke="#2e3181" stroke-width="0.3" text-anchor="middle" font-family='"Liberation Sans", Arial, Helvetica, sans-serif' xml:space="preserve">9</text>
<text transform="translate(1583.60,245.00) scale(1,1.045)" font-size="40.3" fill="#2e3181" stroke="#2e3181" stroke-width="0.3" text-anchor="middle" font-family='"Liberation Sans", Arial, Helvetica, sans-serif' xml:space="preserve">7</text>
<text transform="translate(1583.20,315.15) scale(1,1.045)" font-size="40.3" fill="#2e3181" stroke="#2e3181" stroke-width="0.3" text-anchor="middle" font-family='"Liberation Sans", Arial, Helvetica, sans-serif' xml:space="preserve">5</text>
<text transform="translate(1583.20,389.60) scale(1,1.045)" font-size="40.3" fill="#2e3181" stroke="#2e3181" stroke-width="0.3" text-anchor="middle" font-family='"Liberation Sans", Arial, Helvetica, sans-serif' xml:space="preserve">3</text>
<text transform="translate(1584.10,455.40) scale(1,1.045)" font-size="40.3" fill="#2e3181" stroke="#2e3181" stroke-width="0.3" text-anchor="middle" font-family='"Liberation Sans", Arial, Helvetica, sans-serif' xml:space="preserve">1</text>
<text transform="translate(932.50,494.40) scale(1,1.045)" font-size="40.3" fill="#000" stroke="#000" stroke-width="0.3" text-anchor="middle" font-family='"Liberation Sans", Arial, Helvetica, sans-serif' xml:space="preserve">8.2</text>
<text transform="translate(1040.00,494.40) scale(1,1.045)" font-size="40.3" fill="#000" stroke="#000" stroke-width="0.3" text-anchor="middle" font-family='"Liberation Sans", Arial, Helvetica, sans-serif' xml:space="preserve">8.4</text>
<text transform="translate(1147.30,494.40) scale(1,1.045)" font-size="40.3" fill="#000" stroke="#000" stroke-width="0.3" text-anchor="middle" font-family='"Liberation Sans", Arial, Helvetica, sans-serif' xml:space="preserve">8.6</text>
<text transform="translate(1255.70,494.40) scale(1,1.045)" font-size="40.3" fill="#000" stroke="#000" stroke-width="0.3" text-anchor="middle" font-family='"Liberation Sans", Arial, Helvetica, sans-serif' xml:space="preserve">8.8</text>
<text transform="translate(1363.00,494.40) scale(1,1.045)" font-size="40.3" fill="#000" stroke="#000" stroke-width="0.3" text-anchor="middle" font-family='"Liberation Sans", Arial, Helvetica, sans-serif' xml:space="preserve">9.0</text>
<text transform="translate(1473.00,494.40) scale(1,1.045)" font-size="40.3" fill="#000" stroke="#000" stroke-width="0.3" text-anchor="middle" font-family='"Liberation Sans", Arial, Helvetica, sans-serif' xml:space="preserve">9.2</text>
<text transform="translate(963.80,78.95) scale(1,1.045)" font-size="46.5" fill="#000" stroke="#000" stroke-width="0.3" text-anchor="start" font-family='"Liberation Sans", Arial, Helvetica, sans-serif' xml:space="preserve">(c)</text>
<text transform="translate(1268.50,536.80) scale(1,1.045)" font-size="36" fill="#000" stroke="#000" stroke-width="0.3" text-anchor="middle" font-family='"Liberation Sans", Arial, Helvetica, sans-serif' xml:space="preserve">Frequency (GHz)</text>
<text transform="translate(831.95,347.20) rotate(-90) scale(1.05,1)" font-size="48" fill="#ea2a27" stroke="#ea2a27" stroke-width="0.3" text-anchor="start" font-family='"Liberation Serif", "DejaVu Serif", serif' xml:space="preserve">φ</text>
<text transform="translate(839.25,318.40) rotate(-90) scale(1,1.045)" font-size="30" fill="#ea2a27" stroke="#ea2a27" stroke-width="0.3" text-anchor="start" font-family='"Liberation Sans", Arial, Helvetica, sans-serif' xml:space="preserve">peak</text>
<text transform="translate(831.10,245.10) rotate(-90) scale(1,1.045)" font-size="36" fill="#ea2a27" stroke="#ea2a27" stroke-width="0.3" text-anchor="start" font-family='"Liberation Sans", Arial, Helvetica, sans-serif' xml:space="preserve">(degree)</text>
<text transform="translate(1640.80,342.55) rotate(-90) scale(1,1)" font-size="40" fill="#2e3181" stroke="#2e3181" stroke-width="0.3" text-anchor="start" font-family='"Liberation Serif", "DejaVu Serif", serif' xml:space="preserve">Δ</text>
<text transform="translate(1643.20,317.10) rotate(-90) scale(1.07,1)" font-size="43.5" fill="#2e3181" stroke="#2e3181" stroke-width="0.3" text-anchor="start" font-family='"Liberation Serif", "DejaVu Serif", serif' xml:space="preserve">φ</text>
<text transform="translate(1649.60,292.20) rotate(-90) scale(1,1.045)" font-size="30" fill="#2e3181" stroke="#2e3181" stroke-width="0.3" text-anchor="start" font-family='"Liberation Sans", Arial, Helvetica, sans-serif' xml:space="preserve">3dB</text>
<text transform="translate(1641.40,230.40) rotate(-90) scale(1,1.045)" font-size="36" fill="#2e3181" stroke="#2e3181" stroke-width="0.3" text-anchor="start" font-family='"Liberation Sans", Arial, Helvetica, sans-serif' xml:space="preserve">(degree)</text>
<text transform="translate(913.10,622.85) scale(1,1.045)" font-size="41.3" fill="#000" stroke="#000" stroke-width="0.3" text-anchor="end" font-family='"Liberation Sans", Arial, Helvetica, sans-serif' xml:space="preserve">30</text>
<text transform="translate(915.45,691.05) scale(1,1.045)" font-size="41.3" fill="#000" stroke="#000" stroke-width="0.3" text-anchor="end" font-family='"Liberation Sans", Arial, Helvetica, sans-serif' xml:space="preserve">20</text>
<text transform="translate(915.25,767.05) scale(1,1.045)" font-size="41.3" fill="#000" stroke="#000" stroke-width="0.3" text-anchor="end" font-family='"Liberation Sans", Arial, Helvetica, sans-serif' xml:space="preserve">10</text>
<text transform="translate(903.45,840.35) scale(1,1.045)" font-size="41.3" fill="#000" stroke="#000" stroke-width="0.3" text-anchor="end" font-family='"Liberation Sans", Arial, Helvetica, sans-serif' xml:space="preserve">0</text>
<text transform="translate(915.15,916.35) scale(1,1.045)" font-size="41.3" fill="#000" stroke="#000" stroke-width="0.3" text-anchor="end" font-family='"Liberation Sans", Arial, Helvetica, sans-serif' xml:space="preserve">-10</text>
<text transform="translate(915.15,989.65) scale(1,1.045)" font-size="41.3" fill="#000" stroke="#000" stroke-width="0.3" text-anchor="end" font-family='"Liberation Sans", Arial, Helvetica, sans-serif' xml:space="preserve">-20</text>
<text transform="translate(914.70,1064.02) scale(1,1.045)" font-size="41.3" fill="#000" stroke="#000" stroke-width="0.3" text-anchor="end" font-family='"Liberation Sans", Arial, Helvetica, sans-serif' xml:space="preserve">-30</text>
<text transform="translate(927.40,1103.10) scale(1,1.045)" font-size="41.3" fill="#000" stroke="#000" stroke-width="0.3" text-anchor="middle" font-family='"Liberation Sans", Arial, Helvetica, sans-serif' xml:space="preserve">-90</text>
<text transform="translate(1030.90,1103.10) scale(1,1.045)" font-size="41.3" fill="#000" stroke="#000" stroke-width="0.3" text-anchor="middle" font-family='"Liberation Sans", Arial, Helvetica, sans-serif' xml:space="preserve">-60</text>
<text transform="translate(1135.20,1103.10) scale(1,1.045)" font-size="41.3" fill="#000" stroke="#000" stroke-width="0.3" text-anchor="middle" font-family='"Liberation Sans", Arial, Helvetica, sans-serif' xml:space="preserve">-30</text>
<text transform="translate(1244.50,1103.10) scale(1,1.045)" font-size="41.3" fill="#000" stroke="#000" stroke-width="0.3" text-anchor="middle" font-family='"Liberation Sans", Arial, Helvetica, sans-serif' xml:space="preserve">0</text>
<text transform="translate(1344.30,1103.10) scale(1,1.045)" font-size="41.3" fill="#000" stroke="#000" stroke-width="0.3" text-anchor="middle" font-family='"Liberation Sans", Arial, Helvetica, sans-serif' xml:space="preserve">30</text>
<text transform="translate(1450.90,1103.10) scale(1,1.045)" font-size="41.3" fill="#000" stroke="#000" stroke-width="0.3" text-anchor="middle" font-family='"Liberation Sans", Arial, Helvetica, sans-serif' xml:space="preserve">60</text>
<text transform="translate(1554.80,1103.10) scale(1,1.045)" font-size="41.3" fill="#000" stroke="#000" stroke-width="0.3" text-anchor="middle" font-family='"Liberation Sans", Arial, Helvetica, sans-serif' xml:space="preserve">90</text>
<text transform="translate(968.70,665.85) scale(1,1.045)" font-size="46" fill="#000" stroke="#000" stroke-width="0.3" text-anchor="start" font-family='"Liberation Sans", Arial, Helvetica, sans-serif' xml:space="preserve">(d)</text>
<text transform="translate(832.85,833.00) rotate(-90) scale(1,1.045)" font-size="36" fill="#000" stroke="#000" stroke-width="0.3" text-anchor="middle" font-family='"Liberation Sans", Arial, Helvetica, sans-serif' xml:space="preserve">Gain  (dBi)</text>
<text transform="translate(1146.60,1140.35) scale(1.07,1)" font-size="40" fill="#231815" stroke="#231815" stroke-width="0.3" text-anchor="start" font-family='"Liberation Serif", "DejaVu Serif", serif' xml:space="preserve">φ</text>
<text transform="translate(1180.35,1140.65) scale(1,1.045)" font-size="36" fill="#231815" stroke="#231815" stroke-width="0.3" text-anchor="start" font-family='"Liberation Sans", Arial, Helvetica, sans-serif' xml:space="preserve">(degree)</text>
<text transform="translate(1381.95,649.30) scale(1,1.045)" font-size="30" fill="#ea2a27" stroke="#ea2a27" stroke-width="0.3" text-anchor="start" font-family='"Liberation Sans", Arial, Helvetica, sans-serif' xml:space="preserve"><tspan font-family='"Liberation Serif", "DejaVu Serif", serif' font-size="31">Δ</tspan>H = 0 G</text>
<text transform="translate(1393.50,679.60) scale(1,1.045)" font-size="30" fill="#2c9047" stroke="#2c9047" stroke-width="0.3" text-anchor="start" font-family='"Liberation Sans", Arial, Helvetica, sans-serif' xml:space="preserve">5  <tspan dx="1.8">G</tspan></text>
<text transform="translate(1388.65,716.60) scale(1,1.045)" font-size="30" fill="#21509f" stroke="#21509f" stroke-width="0.3" text-anchor="start" font-family='"Liberation Sans", Arial, Helvetica, sans-serif' xml:space="preserve">10  <tspan dx="2.3">G</tspan></text>
<text transform="translate(1389.60,752.60) scale(1,1.045)" font-size="30" fill="#231815" stroke="#231815" stroke-width="0.3" text-anchor="start" font-family='"Liberation Sans", Arial, Helvetica, sans-serif' xml:space="preserve">20  <tspan dx="3">G</tspan></text>
<rect x="77.8" y="634.0" width="7.5" height="6.0" fill="#fff"/>
<rect x="90.7" y="634.0" width="7.5" height="6.0" fill="#fff"/>
<rect x="1566.8" y="25.0" width="7.5" height="6.0" fill="#fff"/>
<rect x="1579.7" y="25.0" width="6.5" height="6.0" fill="#fff"/>
<rect x="1567.8" y="95.0" width="7.5" height="6.0" fill="#fff"/>
<rect x="1580.7" y="95.0" width="6.5" height="6.0" fill="#fff"/>
<rect x="1586.8" y="95.0" width="7.5" height="6.0" fill="#fff"/>
<rect x="1599.7" y="95.0" width="7.5" height="6.0" fill="#fff"/>
<rect x="1574.8" y="450.0" width="7.5" height="6.0" fill="#fff"/>
<rect x="1587.7" y="450.0" width="7.5" height="6.0" fill="#fff"/>
<rect x="870.8" y="762.0" width="7.5" height="6.0" fill="#fff"/>
<rect x="884.7" y="762.0" width="6.5" height="6.0" fill="#fff"/>
<rect x="870.8" y="911.0" width="7.5" height="6.0" fill="#fff"/>
<rect x="884.7" y="911.0" width="6.5" height="6.0" fill="#fff"/>
<rect x="1389.8" y="713.0" width="5.5" height="5.0" fill="#fff"/>
<rect x="1399.7" y="713.0" width="5.5" height="5.0" fill="#fff"/>
</svg></body></html>
